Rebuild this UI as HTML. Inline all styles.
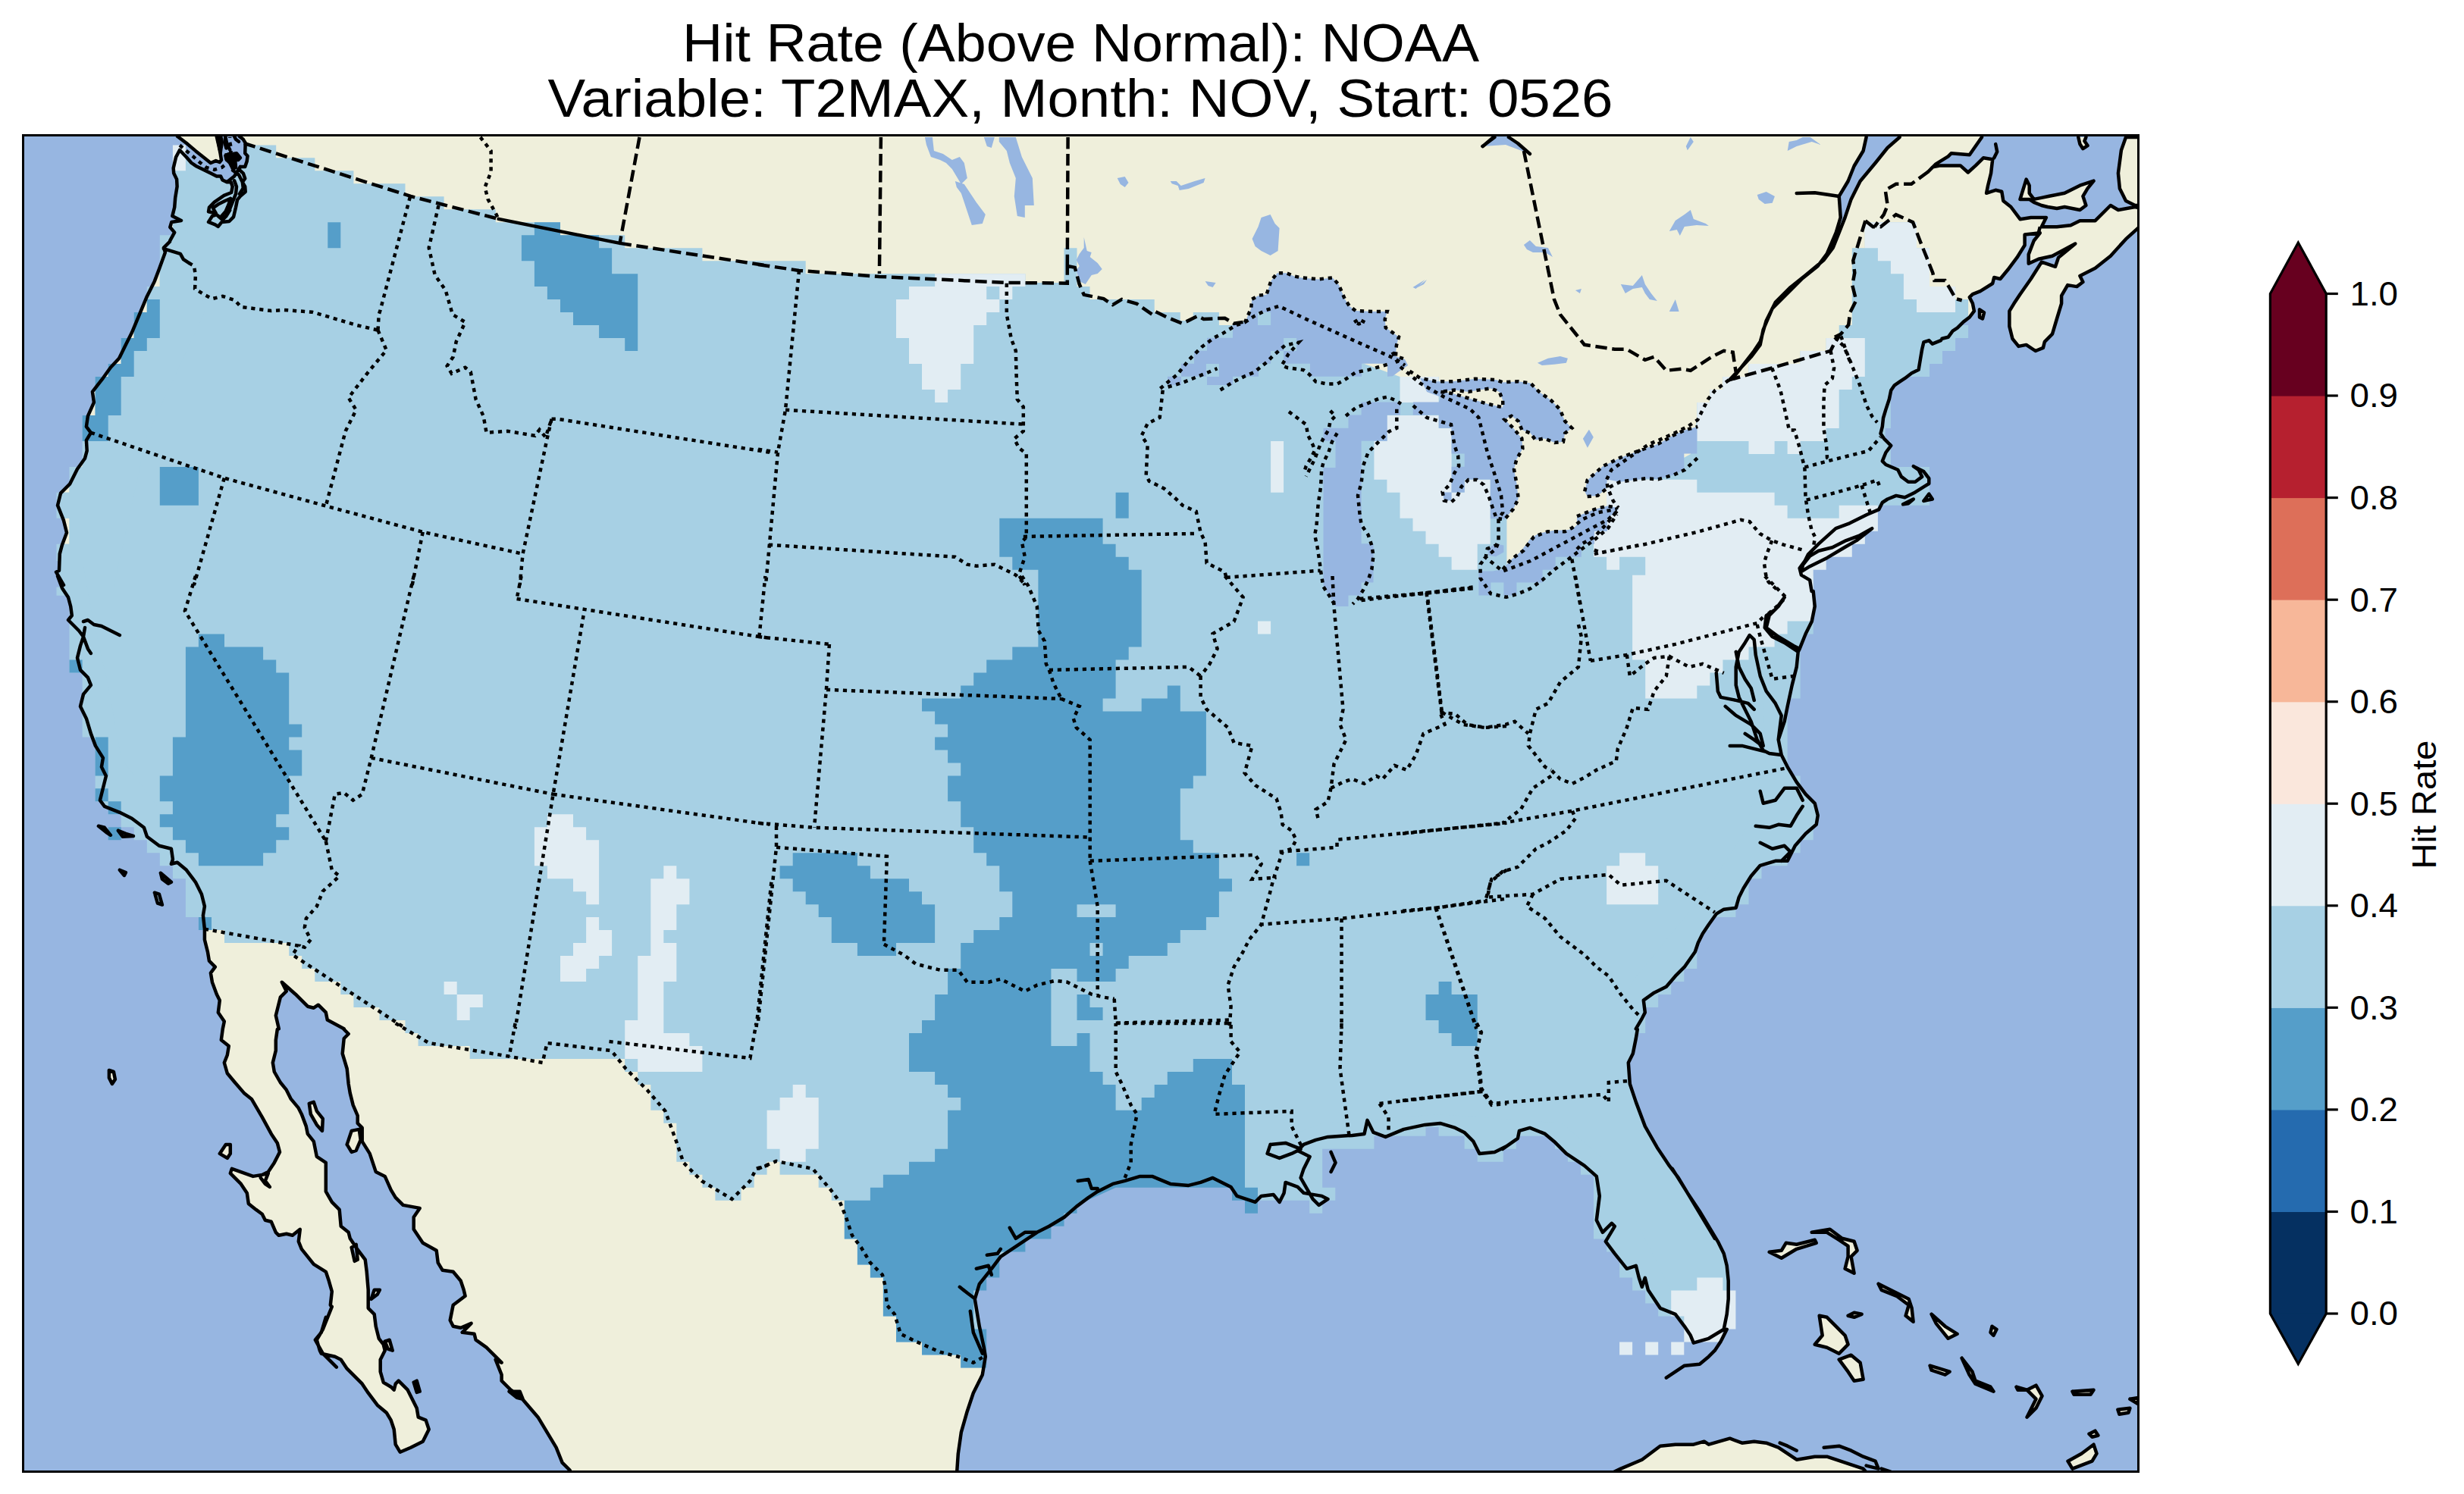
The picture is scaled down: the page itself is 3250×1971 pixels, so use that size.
<!DOCTYPE html>
<html><head><meta charset="utf-8"><title>Hit Rate (Above Normal): NOAA</title>
<style>
html,body{margin:0;padding:0;background:#fff;}
body{width:3250px;height:1971px;overflow:hidden;}
svg{display:block;}
.tt{font-family:"Liberation Sans",sans-serif;font-size:70px;fill:#000;}
.tk{font-family:"Liberation Sans",sans-serif;font-size:43.5px;fill:#000;}
.lb{font-family:"Liberation Sans",sans-serif;font-size:43.5px;fill:#000;}
</style></head><body>
<svg xmlns="http://www.w3.org/2000/svg" width="3250" height="1971" viewBox="0 0 3250 1971">
<defs>
<clipPath id="frame"><rect x="31.5" y="179.5" width="2788" height="1761"/></clipPath>
<clipPath id="landclip"><path d="M315.9,179.9 L320.8,183.8 L323.7,188.7 L323.2,202.3 L326.6,205.8 L325.6,213.1 L323.2,219.9 L316.9,219.9 L309.1,232.5 L299.3,240.3 L293.5,237.4 L291.1,232.5 L285.7,232.5 L277.9,228.6 L258.4,218.9 L252.6,215.0 L245.8,207.2 L237.0,198.0 L232.1,207.2 L228.7,221.8 L229.2,228.6 L233.1,236.4 L233.6,246.2 L231.2,260.8 L230.2,273.5 L227.3,285.1 L239.0,291.0 L226.3,292.9 L224.3,299.7 L230.2,306.6 L224.3,317.3 L223.9,318.9 L215.9,326.9 L217.9,332.9 L209.9,354.9 L203.9,370.9 L193.9,390.9 L183.9,414.9 L173.9,438.8 L165.9,454.8 L157.1,472.8 L145.9,484.8 L135.9,498.8 L121.9,516.8 L123.9,530.8 L115.9,548.8 L113.9,562.8 L119.9,570.8 L113.9,580.8 L114.7,594.7 L112.0,604.7 L102.0,618.7 L92.0,638.7 L80.0,650.7 L76.0,666.7 L84.0,686.7 L88.0,702.7 L82.0,718.7 L78.8,730.7 L78.0,752.7 L74.0,754.7 L84.0,771.8 L76.0,760.0 L82.0,776.0 L90.0,788.0 L93.2,800.0 L94.8,812.0 L90.0,818.0 L104.0,832.0 L110.0,840.0 L106.0,851.9 L102.0,867.9 L106.0,883.9 L115.9,893.9 L119.9,903.9 L110.0,915.9 L106.0,931.9 L113.9,947.9 L119.9,967.9 L125.9,983.9 L135.9,999.9 L133.9,1011.8 L139.9,1023.8 L135.9,1039.8 L131.9,1055.8 L137.9,1063.8 L157.9,1071.8 L173.9,1079.8 L189.9,1091.8 L193.9,1103.8 L209.9,1115.8 L225.9,1119.8 L227.9,1133.8 L225.9,1139.8 L233.9,1137.8 L245.9,1147.8 L257.9,1163.8 L265.9,1179.7 L269.9,1195.7 L267.9,1207.7 L269.9,1225.7 L269.9,1239.7 L273.9,1255.7 L275.9,1267.7 L283.8,1275.7 L277.9,1283.7 L279.9,1295.7 L285.8,1311.7 L289.8,1319.7 L287.8,1335.7 L295.8,1347.6 L293.8,1357.2 L293.8,1357.2 L291.8,1372.0 L301.8,1380.0 L299.8,1392.0 L295.8,1402.0 L299.8,1416.0 L309.8,1428.0 L321.8,1441.9 L331.8,1449.9 L345.8,1473.9 L357.8,1495.9 L365.8,1507.9 L369.0,1519.9 L361.8,1533.9 L353.8,1545.9 L345.8,1549.9 L333.8,1551.9 L305.8,1541.9 L303.8,1547.9 L317.8,1561.9 L325.8,1573.9 L327.8,1587.9 L337.8,1595.9 L345.8,1601.8 L349.8,1609.8 L357.8,1611.8 L363.8,1625.8 L367.8,1629.8 L377.8,1627.8 L385.8,1629.8 L395.8,1621.8 L393.8,1637.8 L397.8,1647.8 L413.8,1667.8 L429.8,1677.8 L433.8,1689.8 L437.8,1703.8 L435.8,1721.8 L437.8,1723.8 L429.8,1743.8 L425.8,1753.8 L417.8,1767.7 L421.8,1781.7 L423.8,1785.7 L441.8,1789.7 L449.7,1793.7 L457.7,1805.7 L477.7,1825.7 L485.7,1837.7 L497.7,1853.7 L509.7,1863.7 L515.7,1873.7 L519.7,1885.7 L521.7,1905.7 L527.7,1915.7 L541.7,1909.7 L557.7,1901.7 L565.7,1885.7 L561.7,1873.7 L551.7,1869.7 L549.7,1857.7 L545.7,1849.7 L537.7,1833.7 L525.7,1821.7 L521.7,1825.7 L519.7,1833.7 L515.7,1829.7 L505.7,1823.7 L501.7,1809.7 L501.7,1793.7 L507.7,1781.7 L505.7,1773.7 L499.7,1765.8 L495.7,1749.8 L493.7,1733.8 L485.7,1725.8 L485.7,1701.8 L483.7,1677.8 L481.7,1661.8 L469.7,1645.8 L461.7,1633.8 L459.7,1625.8 L449.7,1617.8 L447.7,1595.9 L437.8,1585.9 L429.8,1571.9 L429.8,1559.9 L429.8,1545.9 L429.8,1533.9 L417.8,1525.9 L413.8,1505.9 L405.8,1495.9 L403.8,1485.9 L397.8,1469.9 L393.8,1461.9 L383.8,1449.9 L377.8,1437.9 L369.8,1428.0 L361.8,1414.0 L359.8,1402.0 L363.8,1386.0 L363.8,1372.0 L365.8,1358.0 L367.8,1357.2 L363.8,1339.7 L369.8,1315.7 L377.8,1307.7 L371.8,1295.7 L389.8,1311.7 L405.8,1327.7 L413.8,1329.7 L419.8,1325.7 L429.8,1335.7 L431.8,1345.6 L453.7,1357.2 L453.7,1358.0 L459.7,1364.0 L453.7,1370.0 L451.7,1390.0 L457.7,1410.0 L459.7,1430.0 L461.7,1441.9 L465.7,1457.9 L471.7,1471.9 L471.7,1481.9 L477.7,1487.9 L477.7,1505.9 L487.7,1521.9 L495.7,1545.9 L507.7,1551.9 L515.7,1569.9 L521.7,1579.9 L531.7,1589.9 L553.7,1593.9 L545.7,1605.8 L545.7,1621.8 L557.7,1639.8 L575.7,1649.8 L577.7,1665.8 L583.7,1675.8 L597.7,1677.8 L607.7,1689.8 L611.7,1701.8 L613.6,1709.8 L597.7,1721.8 L593.7,1741.8 L597.7,1749.8 L607.7,1751.8 L621.6,1745.8 L609.7,1757.8 L625.6,1759.8 L627.6,1767.7 L641.6,1777.7 L653.6,1789.7 L661.6,1797.7 L653.6,1793.7 L661.6,1813.7 L661.6,1821.7 L673.6,1833.7 L685.6,1841.7 L709.6,1869.7 L721.6,1889.7 L733.6,1909.7 L741.6,1929.7 L751.6,1939.6 L761.6,1961.6 L1261.8,1957.6 L1261.8,1947.2 L1263.8,1917.7 L1267.8,1889.7 L1275.8,1861.7 L1283.8,1837.7 L1295.8,1813.7 L1299.8,1789.7 L1297.8,1777.7 L1291.8,1749.8 L1287.8,1725.8 L1285.8,1713.8 L1291.8,1693.8 L1307.8,1673.8 L1319.8,1657.8 L1343.8,1641.8 L1367.8,1625.8 L1383.8,1617.8 L1403.8,1605.8 L1419.7,1591.9 L1435.7,1579.9 L1447.7,1571.9 L1467.7,1561.9 L1483.7,1557.9 L1503.7,1551.9 L1519.7,1551.9 L1543.7,1561.9 L1567.7,1563.9 L1583.6,1559.9 L1599.6,1553.9 L1607.6,1557.9 L1623.6,1565.9 L1631.6,1577.9 L1655.6,1585.9 L1663.6,1577.9 L1679.6,1575.9 L1687.6,1585.9 L1693.6,1573.9 L1695.6,1559.9 L1711.6,1565.9 L1719.6,1573.9 L1743.6,1577.9 L1751.5,1581.9 L1739.6,1589.9 L1731.6,1581.9 L1715.6,1553.9 L1719.6,1541.9 L1727.6,1525.9 L1711.6,1517.9 L1719.6,1509.9 L1735.6,1503.9 L1751.5,1499.9 L1783.5,1497.9 L1799.5,1495.9 L1803.5,1477.9 L1811.5,1493.9 L1827.5,1499.9 L1851.5,1489.9 L1879.5,1483.9 L1899.5,1481.9 L1919.4,1487.9 L1931.4,1493.9 L1943.4,1505.9 L1951.4,1521.9 L1971.4,1519.9 L1987.4,1511.9 L1981.9,1515.9 L2001.9,1501.9 L2003.9,1491.9 L2017.9,1487.9 L2037.9,1495.9 L2049.9,1505.9 L2065.9,1521.9 L2089.9,1537.9 L2105.8,1551.9 L2109.8,1577.9 L2105.8,1609.8 L2113.8,1625.8 L2125.8,1613.8 L2129.8,1617.8 L2117.8,1637.8 L2129.8,1653.8 L2145.8,1673.8 L2157.8,1669.8 L2161.8,1685.8 L2165.8,1697.8 L2169.8,1685.8 L2173.8,1701.8 L2181.8,1713.8 L2189.8,1725.8 L2209.8,1733.8 L2221.8,1749.8 L2229.8,1761.8 L2233.8,1771.7 L2253.8,1765.8 L2273.7,1753.8 L2277.7,1733.8 L2279.7,1713.8 L2279.7,1689.8 L2277.7,1669.8 L2273.7,1653.8 L2265.8,1637.8 L2253.8,1617.8 L2241.8,1597.9 L2225.8,1573.9 L2213.8,1553.9 L2201.8,1537.9 L2185.8,1513.9 L2169.8,1485.9 L2157.8,1453.9 L2149.8,1430.0 L2147.8,1402.0 L2153.8,1390.0 L2157.8,1370.0 L2159.8,1358.0 L2157.8,1357.2 L2165.8,1343.6 L2169.8,1335.7 L2167.8,1319.7 L2181.8,1309.7 L2197.8,1301.7 L2209.8,1287.7 L2221.8,1275.7 L2235.8,1255.7 L2239.8,1243.7 L2245.8,1231.7 L2253.8,1219.7 L2263.8,1205.7 L2273.7,1199.7 L2289.7,1197.7 L2293.7,1183.7 L2299.7,1171.8 L2309.7,1155.8 L2321.7,1141.8 L2341.7,1135.8 L2357.7,1135.8 L2367.7,1115.8 L2381.7,1099.8 L2395.7,1087.8 L2397.7,1075.8 L2393.7,1059.8 L2381.7,1047.8 L2369.7,1031.8 L2357.7,1011.8 L2349.7,995.9 L2345.7,975.9 L2353.7,951.9 L2357.7,931.9 L2363.7,903.9 L2369.7,879.9 L2371.7,859.9 L2373.7,855.9 L2381.7,836.0 L2389.7,820.0 L2393.7,800.0 L2391.7,780.0 L2389.5,780.0 L2387.2,765.4 L2375.9,758.6 L2373.6,749.5 L2380.4,740.4 L2385.0,731.3 L2398.6,717.7 L2421.4,697.2 L2439.6,690.3 L2462.3,679.0 L2478.3,672.1 L2482.8,663.0 L2489.6,658.5 L2501.0,653.9 L2512.4,656.2 L2526.1,649.4 L2544.3,638.0 L2544.3,631.2 L2537.4,622.1 L2523.8,615.2 L2530.6,619.8 L2535.2,628.9 L2526.1,635.7 L2517.0,635.7 L2507.9,628.9 L2503.3,619.8 L2487.4,613.0 L2482.8,608.4 L2487.4,597.0 L2494.2,587.9 L2485.1,578.8 L2480.5,572.0 L2482.8,562.9 L2484.0,551.5 L2487.4,540.1 L2491.9,526.5 L2494.2,515.1 L2498.8,508.3 L2505.6,503.7 L2512.4,499.2 L2521.5,492.3 L2530.6,487.8 L2532.9,474.1 L2535.2,460.5 L2537.4,451.4 L2544.3,449.1 L2548.8,453.7 L2560.0,449.1 L2561.5,446.8 L2569.6,444.8 L2575.6,436.7 L2581.7,432.6 L2589.8,424.6 L2597.8,418.5 L2603.9,410.4 L2601.9,400.3 L2597.8,392.2 L2601.9,388.2 L2612.0,384.1 L2628.2,374.0 L2630.2,366.0 L2638.3,368.0 L2648.4,355.8 L2660.5,339.7 L2670.6,323.5 L2670.6,309.4 L2690.8,307.3 L2682.7,317.5 L2675.7,335.6 L2675.7,347.8 L2688.8,341.7 L2707.0,337.7 L2737.3,321.5 L2715.1,339.7 L2711.0,351.8 L2692.8,345.7 L2678.7,368.0 L2664.5,388.2 L2656.5,400.3 L2650.4,410.4 L2650.4,430.6 L2654.4,446.8 L2662.5,456.9 L2672.6,454.9 L2684.8,463.0 L2694.9,458.9 L2696.9,450.8 L2707.0,440.7 L2713.0,420.5 L2719.1,400.3 L2719.1,390.2 L2727.2,376.1 L2739.3,378.1 L2747.4,372.0 L2743.4,363.9 L2763.6,353.8 L2783.8,337.7 L2804.0,315.4 L2824.2,297.2 L2824.2,275.0 L2816.1,273.0 L2793.9,277.0 L2783.8,271.0 L2763.6,291.2 L2743.4,291.2 L2731.2,297.2 L2713.0,299.3 L2698.9,299.3 L2692.8,299.3 L2698.9,287.1 L2678.7,287.1 L2664.5,289.2 L2652.4,273.0 L2642.3,264.9 L2640.3,252.8 L2632.2,250.8 L2620.1,254.8 L2622.1,244.7 L2626.1,228.5 L2628.2,210.3 L2616.0,208.3 L2605.9,218.4 L2595.8,227.5 L2585.7,218.4 L2559.5,218.4 L2549.3,220.4 L2543.3,226.5 L2553.4,216.4 L2569.6,206.3 L2573.6,202.3 L2597.8,204.3 L2614.0,181.0 L2614.0,150.0 L2505.6,150.0 L2505.6,181.0 L2489.6,195.0 L2473.6,215.0 L2453.6,239.0 L2441.6,262.9 L2433.6,286.9 L2425.7,306.9 L2417.7,326.9 L2405.7,342.9 L2381.7,362.9 L2361.7,378.9 L2341.7,398.9 L2329.7,422.9 L2321.7,450.8 L2313.7,462.8 L2285.7,498.8 L2281.7,500.8 L2309.7,470.8 L2321.7,454.8 L2325.7,434.8 L2337.7,406.9 L2365.7,378.9 L2377.7,366.9 L2397.7,350.9 L2409.7,334.9 L2421.7,306.9 L2427.7,286.9 L2425.7,258.9 L2437.6,239.0 L2445.6,219.0 L2457.6,199.0 L2461.6,181.0 L2461.6,150.0 L315.9,150.0Z M234.1,179.9 L245.8,188.7 L258.4,199.4 L268.2,207.2 L277.9,215.0 L284.7,212.1 L289.6,214.0 L292.0,211.1 L290.6,202.3 L288.6,192.6 L285.7,179.9 L285.7,177.5 L234.1,177.5Z M2664.5,262.9 L2672.6,236.6 L2676.7,244.7 L2676.7,254.8 L2682.7,262.9 L2692.8,260.9 L2702.9,258.8 L2723.2,254.8 L2743.4,244.7 L2761.6,238.6 L2753.5,248.7 L2747.4,258.8 L2751.4,271.0 L2743.4,277.0 L2733.3,275.0 L2723.2,273.0 L2713.0,275.0 L2700.9,273.0 L2692.8,271.0 L2682.7,266.9 L2676.7,262.9 L2664.5,262.9Z M2824.2,181.0 L2804.0,181.0 L2797.9,198.2 L2793.9,228.5 L2795.9,248.7 L2804.0,264.9 L2816.1,271.0 L2824.2,271.0Z M2741.3,181.0 L2743.4,190.1 L2747.4,196.2 L2753.5,192.1 L2749.4,186.1 L2751.4,181.0Z M2611.0,408.4 L2617.0,412.4 L2615.0,420.5 L2611.0,418.5 L2611.0,408.4Z M2375.9,754.1 L2387.2,747.2 L2410.0,735.9 L2432.8,722.2 L2448.7,713.1 L2469.2,697.2 L2453.2,706.3 L2435.0,713.1 L2416.8,722.2 L2398.6,726.8 L2387.2,733.6 L2378.1,745.0 L2375.9,754.1Z M2510.1,665.3 L2523.8,658.5 L2517.0,664.2 L2510.1,665.3Z M2537.4,660.8 L2548.8,658.5 L2544.3,651.7 L2537.4,660.8Z M129.9,1089.8 L137.9,1091.8 L145.9,1101.8 L139.9,1097.8 L129.9,1089.8Z M155.9,1095.8 L165.9,1099.8 L175.9,1103.0 L161.9,1103.8 L155.9,1095.8Z M157.9,1147.8 L165.9,1151.0 L163.9,1155.0 L157.9,1147.8Z M211.9,1151.8 L225.9,1163.8 L221.9,1165.8 L213.9,1159.8 L211.9,1151.8Z M203.9,1177.7 L209.9,1179.7 L213.9,1193.7 L207.9,1191.7 L203.9,1177.7Z M143.9,1412.0 L149.9,1414.0 L151.9,1424.0 L147.9,1430.0 L143.9,1422.0 L143.9,1412.0Z M289.8,1521.9 L297.8,1509.9 L303.8,1509.9 L303.8,1521.9 L299.8,1527.9 L289.8,1521.9Z M407.8,1455.9 L413.8,1453.9 L417.8,1465.9 L425.8,1475.9 L425.0,1491.9 L417.8,1483.9 L409.8,1469.9 L407.8,1455.9Z M457.7,1509.9 L463.7,1491.9 L473.7,1489.9 L475.7,1503.9 L469.7,1517.9 L463.7,1519.9 L457.7,1509.9Z M463.7,1645.8 L469.7,1641.8 L471.7,1661.8 L467.7,1663.8 L463.7,1645.8Z M489.7,1713.8 L493.7,1701.8 L500.9,1701.8 L497.7,1707.8 L489.7,1713.8Z M507.7,1769.7 L513.7,1767.7 L517.7,1781.7 L511.7,1779.7 L507.7,1769.7Z M545.7,1823.7 L549.7,1821.7 L553.7,1835.7 L549.7,1836.9 L545.7,1823.7Z M671.6,1835.7 L685.6,1835.7 L689.6,1845.7 L681.6,1843.7 L671.6,1835.7Z M2333.7,1651.8 L2349.7,1659.8 L2369.7,1647.8 L2395.7,1639.8 L2393.7,1635.8 L2369.7,1641.8 L2355.7,1639.8 L2349.7,1649.8 L2333.7,1651.8Z M2389.7,1625.8 L2413.7,1621.8 L2429.7,1633.8 L2445.6,1637.8 L2449.6,1649.8 L2441.6,1657.8 L2445.6,1679.8 L2433.6,1673.8 L2437.6,1657.8 L2437.6,1643.8 L2425.7,1635.8 L2409.7,1625.8 L2389.7,1625.8Z M2399.7,1735.8 L2409.7,1737.8 L2421.7,1749.8 L2433.6,1761.8 L2437.6,1773.7 L2425.7,1785.7 L2409.7,1777.7 L2393.7,1773.7 L2403.7,1761.8 L2399.7,1735.8Z M2425.7,1793.7 L2441.6,1787.7 L2453.6,1797.7 L2457.6,1819.7 L2445.6,1821.7 L2437.6,1809.7 L2425.7,1793.7Z M2477.6,1693.8 L2493.6,1701.8 L2517.6,1713.8 L2521.6,1725.8 L2523.6,1743.8 L2513.6,1735.8 L2517.6,1721.8 L2501.6,1709.8 L2481.6,1701.8 L2477.6,1693.8Z M2437.6,1735.8 L2445.6,1731.8 L2455.6,1733.8 L2445.6,1737.8 L2437.6,1735.8Z M2547.6,1733.8 L2565.6,1749.8 L2581.6,1759.8 L2569.6,1765.8 L2553.6,1745.8 L2547.6,1733.8Z M2627.5,1749.8 L2633.5,1753.8 L2629.5,1761.8 L2625.5,1757.8 L2627.5,1749.8Z M2587.6,1791.7 L2601.5,1809.7 L2605.5,1821.7 L2625.5,1829.7 L2629.5,1835.7 L2605.5,1825.7 L2597.6,1813.7 L2587.6,1791.7Z M2545.6,1801.7 L2571.6,1809.7 L2565.6,1813.7 L2547.6,1807.7 L2545.6,1801.7Z M2659.5,1829.7 L2673.5,1833.7 L2685.5,1827.7 L2693.5,1841.7 L2685.5,1857.7 L2673.5,1869.7 L2685.5,1845.7 L2673.5,1833.7 L2661.5,1833.7 L2659.5,1829.7Z M2733.5,1835.7 L2761.5,1833.7 L2757.5,1839.7 L2735.5,1839.7 L2733.5,1835.7Z M2793.4,1859.7 L2809.4,1857.7 L2807.4,1863.7 L2795.4,1865.7 L2793.4,1859.7Z M2809.4,1845.7 L2821.4,1843.7 L2819.4,1851.7 L2809.4,1845.7Z M2727.5,1927.7 L2745.5,1917.7 L2761.5,1905.7 L2765.5,1917.7 L2759.5,1927.7 L2733.5,1937.6 L2727.5,1927.7Z M2755.5,1891.7 L2763.5,1887.7 L2767.4,1893.7 L2759.5,1895.7 L2755.5,1891.7Z M2117.8,1957.6 L2117.8,1947.2 L2137.8,1937.6 L2165.8,1925.7 L2189.8,1907.7 L2209.8,1905.7 L2233.8,1905.7 L2247.8,1901.7 L2253.8,1905.7 L2281.7,1897.7 L2297.7,1903.7 L2313.7,1901.7 L2329.7,1903.7 L2345.7,1909.7 L2369.7,1925.7 L2393.7,1921.7 L2409.7,1921.7 L2433.6,1929.7 L2457.6,1937.6 L2465.6,1947.2 L2473.6,1957.6 L2117.8,1957.6Z" clip-rule="nonzero"/></clipPath>
</defs>
<rect width="3250" height="1971" fill="#fff"/>
<g clip-path="url(#frame)">
<rect x="0" y="0" width="3250" height="1971" fill="#97b6e1"/>
<path d="M315.9,179.9 L320.8,183.8 L323.7,188.7 L323.2,202.3 L326.6,205.8 L325.6,213.1 L323.2,219.9 L316.9,219.9 L309.1,232.5 L299.3,240.3 L293.5,237.4 L291.1,232.5 L285.7,232.5 L277.9,228.6 L258.4,218.9 L252.6,215.0 L245.8,207.2 L237.0,198.0 L232.1,207.2 L228.7,221.8 L229.2,228.6 L233.1,236.4 L233.6,246.2 L231.2,260.8 L230.2,273.5 L227.3,285.1 L239.0,291.0 L226.3,292.9 L224.3,299.7 L230.2,306.6 L224.3,317.3 L223.9,318.9 L215.9,326.9 L217.9,332.9 L209.9,354.9 L203.9,370.9 L193.9,390.9 L183.9,414.9 L173.9,438.8 L165.9,454.8 L157.1,472.8 L145.9,484.8 L135.9,498.8 L121.9,516.8 L123.9,530.8 L115.9,548.8 L113.9,562.8 L119.9,570.8 L113.9,580.8 L114.7,594.7 L112.0,604.7 L102.0,618.7 L92.0,638.7 L80.0,650.7 L76.0,666.7 L84.0,686.7 L88.0,702.7 L82.0,718.7 L78.8,730.7 L78.0,752.7 L74.0,754.7 L84.0,771.8 L76.0,760.0 L82.0,776.0 L90.0,788.0 L93.2,800.0 L94.8,812.0 L90.0,818.0 L104.0,832.0 L110.0,840.0 L106.0,851.9 L102.0,867.9 L106.0,883.9 L115.9,893.9 L119.9,903.9 L110.0,915.9 L106.0,931.9 L113.9,947.9 L119.9,967.9 L125.9,983.9 L135.9,999.9 L133.9,1011.8 L139.9,1023.8 L135.9,1039.8 L131.9,1055.8 L137.9,1063.8 L157.9,1071.8 L173.9,1079.8 L189.9,1091.8 L193.9,1103.8 L209.9,1115.8 L225.9,1119.8 L227.9,1133.8 L225.9,1139.8 L233.9,1137.8 L245.9,1147.8 L257.9,1163.8 L265.9,1179.7 L269.9,1195.7 L267.9,1207.7 L269.9,1225.7 L269.9,1239.7 L273.9,1255.7 L275.9,1267.7 L283.8,1275.7 L277.9,1283.7 L279.9,1295.7 L285.8,1311.7 L289.8,1319.7 L287.8,1335.7 L295.8,1347.6 L293.8,1357.2 L293.8,1357.2 L291.8,1372.0 L301.8,1380.0 L299.8,1392.0 L295.8,1402.0 L299.8,1416.0 L309.8,1428.0 L321.8,1441.9 L331.8,1449.9 L345.8,1473.9 L357.8,1495.9 L365.8,1507.9 L369.0,1519.9 L361.8,1533.9 L353.8,1545.9 L345.8,1549.9 L333.8,1551.9 L305.8,1541.9 L303.8,1547.9 L317.8,1561.9 L325.8,1573.9 L327.8,1587.9 L337.8,1595.9 L345.8,1601.8 L349.8,1609.8 L357.8,1611.8 L363.8,1625.8 L367.8,1629.8 L377.8,1627.8 L385.8,1629.8 L395.8,1621.8 L393.8,1637.8 L397.8,1647.8 L413.8,1667.8 L429.8,1677.8 L433.8,1689.8 L437.8,1703.8 L435.8,1721.8 L437.8,1723.8 L429.8,1743.8 L425.8,1753.8 L417.8,1767.7 L421.8,1781.7 L423.8,1785.7 L441.8,1789.7 L449.7,1793.7 L457.7,1805.7 L477.7,1825.7 L485.7,1837.7 L497.7,1853.7 L509.7,1863.7 L515.7,1873.7 L519.7,1885.7 L521.7,1905.7 L527.7,1915.7 L541.7,1909.7 L557.7,1901.7 L565.7,1885.7 L561.7,1873.7 L551.7,1869.7 L549.7,1857.7 L545.7,1849.7 L537.7,1833.7 L525.7,1821.7 L521.7,1825.7 L519.7,1833.7 L515.7,1829.7 L505.7,1823.7 L501.7,1809.7 L501.7,1793.7 L507.7,1781.7 L505.7,1773.7 L499.7,1765.8 L495.7,1749.8 L493.7,1733.8 L485.7,1725.8 L485.7,1701.8 L483.7,1677.8 L481.7,1661.8 L469.7,1645.8 L461.7,1633.8 L459.7,1625.8 L449.7,1617.8 L447.7,1595.9 L437.8,1585.9 L429.8,1571.9 L429.8,1559.9 L429.8,1545.9 L429.8,1533.9 L417.8,1525.9 L413.8,1505.9 L405.8,1495.9 L403.8,1485.9 L397.8,1469.9 L393.8,1461.9 L383.8,1449.9 L377.8,1437.9 L369.8,1428.0 L361.8,1414.0 L359.8,1402.0 L363.8,1386.0 L363.8,1372.0 L365.8,1358.0 L367.8,1357.2 L363.8,1339.7 L369.8,1315.7 L377.8,1307.7 L371.8,1295.7 L389.8,1311.7 L405.8,1327.7 L413.8,1329.7 L419.8,1325.7 L429.8,1335.7 L431.8,1345.6 L453.7,1357.2 L453.7,1358.0 L459.7,1364.0 L453.7,1370.0 L451.7,1390.0 L457.7,1410.0 L459.7,1430.0 L461.7,1441.9 L465.7,1457.9 L471.7,1471.9 L471.7,1481.9 L477.7,1487.9 L477.7,1505.9 L487.7,1521.9 L495.7,1545.9 L507.7,1551.9 L515.7,1569.9 L521.7,1579.9 L531.7,1589.9 L553.7,1593.9 L545.7,1605.8 L545.7,1621.8 L557.7,1639.8 L575.7,1649.8 L577.7,1665.8 L583.7,1675.8 L597.7,1677.8 L607.7,1689.8 L611.7,1701.8 L613.6,1709.8 L597.7,1721.8 L593.7,1741.8 L597.7,1749.8 L607.7,1751.8 L621.6,1745.8 L609.7,1757.8 L625.6,1759.8 L627.6,1767.7 L641.6,1777.7 L653.6,1789.7 L661.6,1797.7 L653.6,1793.7 L661.6,1813.7 L661.6,1821.7 L673.6,1833.7 L685.6,1841.7 L709.6,1869.7 L721.6,1889.7 L733.6,1909.7 L741.6,1929.7 L751.6,1939.6 L761.6,1961.6 L1261.8,1957.6 L1261.8,1947.2 L1263.8,1917.7 L1267.8,1889.7 L1275.8,1861.7 L1283.8,1837.7 L1295.8,1813.7 L1299.8,1789.7 L1297.8,1777.7 L1291.8,1749.8 L1287.8,1725.8 L1285.8,1713.8 L1291.8,1693.8 L1307.8,1673.8 L1319.8,1657.8 L1343.8,1641.8 L1367.8,1625.8 L1383.8,1617.8 L1403.8,1605.8 L1419.7,1591.9 L1435.7,1579.9 L1447.7,1571.9 L1467.7,1561.9 L1483.7,1557.9 L1503.7,1551.9 L1519.7,1551.9 L1543.7,1561.9 L1567.7,1563.9 L1583.6,1559.9 L1599.6,1553.9 L1607.6,1557.9 L1623.6,1565.9 L1631.6,1577.9 L1655.6,1585.9 L1663.6,1577.9 L1679.6,1575.9 L1687.6,1585.9 L1693.6,1573.9 L1695.6,1559.9 L1711.6,1565.9 L1719.6,1573.9 L1743.6,1577.9 L1751.5,1581.9 L1739.6,1589.9 L1731.6,1581.9 L1715.6,1553.9 L1719.6,1541.9 L1727.6,1525.9 L1711.6,1517.9 L1719.6,1509.9 L1735.6,1503.9 L1751.5,1499.9 L1783.5,1497.9 L1799.5,1495.9 L1803.5,1477.9 L1811.5,1493.9 L1827.5,1499.9 L1851.5,1489.9 L1879.5,1483.9 L1899.5,1481.9 L1919.4,1487.9 L1931.4,1493.9 L1943.4,1505.9 L1951.4,1521.9 L1971.4,1519.9 L1987.4,1511.9 L1981.9,1515.9 L2001.9,1501.9 L2003.9,1491.9 L2017.9,1487.9 L2037.9,1495.9 L2049.9,1505.9 L2065.9,1521.9 L2089.9,1537.9 L2105.8,1551.9 L2109.8,1577.9 L2105.8,1609.8 L2113.8,1625.8 L2125.8,1613.8 L2129.8,1617.8 L2117.8,1637.8 L2129.8,1653.8 L2145.8,1673.8 L2157.8,1669.8 L2161.8,1685.8 L2165.8,1697.8 L2169.8,1685.8 L2173.8,1701.8 L2181.8,1713.8 L2189.8,1725.8 L2209.8,1733.8 L2221.8,1749.8 L2229.8,1761.8 L2233.8,1771.7 L2253.8,1765.8 L2273.7,1753.8 L2277.7,1733.8 L2279.7,1713.8 L2279.7,1689.8 L2277.7,1669.8 L2273.7,1653.8 L2265.8,1637.8 L2253.8,1617.8 L2241.8,1597.9 L2225.8,1573.9 L2213.8,1553.9 L2201.8,1537.9 L2185.8,1513.9 L2169.8,1485.9 L2157.8,1453.9 L2149.8,1430.0 L2147.8,1402.0 L2153.8,1390.0 L2157.8,1370.0 L2159.8,1358.0 L2157.8,1357.2 L2165.8,1343.6 L2169.8,1335.7 L2167.8,1319.7 L2181.8,1309.7 L2197.8,1301.7 L2209.8,1287.7 L2221.8,1275.7 L2235.8,1255.7 L2239.8,1243.7 L2245.8,1231.7 L2253.8,1219.7 L2263.8,1205.7 L2273.7,1199.7 L2289.7,1197.7 L2293.7,1183.7 L2299.7,1171.8 L2309.7,1155.8 L2321.7,1141.8 L2341.7,1135.8 L2357.7,1135.8 L2367.7,1115.8 L2381.7,1099.8 L2395.7,1087.8 L2397.7,1075.8 L2393.7,1059.8 L2381.7,1047.8 L2369.7,1031.8 L2357.7,1011.8 L2349.7,995.9 L2345.7,975.9 L2353.7,951.9 L2357.7,931.9 L2363.7,903.9 L2369.7,879.9 L2371.7,859.9 L2373.7,855.9 L2381.7,836.0 L2389.7,820.0 L2393.7,800.0 L2391.7,780.0 L2389.5,780.0 L2387.2,765.4 L2375.9,758.6 L2373.6,749.5 L2380.4,740.4 L2385.0,731.3 L2398.6,717.7 L2421.4,697.2 L2439.6,690.3 L2462.3,679.0 L2478.3,672.1 L2482.8,663.0 L2489.6,658.5 L2501.0,653.9 L2512.4,656.2 L2526.1,649.4 L2544.3,638.0 L2544.3,631.2 L2537.4,622.1 L2523.8,615.2 L2530.6,619.8 L2535.2,628.9 L2526.1,635.7 L2517.0,635.7 L2507.9,628.9 L2503.3,619.8 L2487.4,613.0 L2482.8,608.4 L2487.4,597.0 L2494.2,587.9 L2485.1,578.8 L2480.5,572.0 L2482.8,562.9 L2484.0,551.5 L2487.4,540.1 L2491.9,526.5 L2494.2,515.1 L2498.8,508.3 L2505.6,503.7 L2512.4,499.2 L2521.5,492.3 L2530.6,487.8 L2532.9,474.1 L2535.2,460.5 L2537.4,451.4 L2544.3,449.1 L2548.8,453.7 L2560.0,449.1 L2561.5,446.8 L2569.6,444.8 L2575.6,436.7 L2581.7,432.6 L2589.8,424.6 L2597.8,418.5 L2603.9,410.4 L2601.9,400.3 L2597.8,392.2 L2601.9,388.2 L2612.0,384.1 L2628.2,374.0 L2630.2,366.0 L2638.3,368.0 L2648.4,355.8 L2660.5,339.7 L2670.6,323.5 L2670.6,309.4 L2690.8,307.3 L2682.7,317.5 L2675.7,335.6 L2675.7,347.8 L2688.8,341.7 L2707.0,337.7 L2737.3,321.5 L2715.1,339.7 L2711.0,351.8 L2692.8,345.7 L2678.7,368.0 L2664.5,388.2 L2656.5,400.3 L2650.4,410.4 L2650.4,430.6 L2654.4,446.8 L2662.5,456.9 L2672.6,454.9 L2684.8,463.0 L2694.9,458.9 L2696.9,450.8 L2707.0,440.7 L2713.0,420.5 L2719.1,400.3 L2719.1,390.2 L2727.2,376.1 L2739.3,378.1 L2747.4,372.0 L2743.4,363.9 L2763.6,353.8 L2783.8,337.7 L2804.0,315.4 L2824.2,297.2 L2824.2,275.0 L2816.1,273.0 L2793.9,277.0 L2783.8,271.0 L2763.6,291.2 L2743.4,291.2 L2731.2,297.2 L2713.0,299.3 L2698.9,299.3 L2692.8,299.3 L2698.9,287.1 L2678.7,287.1 L2664.5,289.2 L2652.4,273.0 L2642.3,264.9 L2640.3,252.8 L2632.2,250.8 L2620.1,254.8 L2622.1,244.7 L2626.1,228.5 L2628.2,210.3 L2616.0,208.3 L2605.9,218.4 L2595.8,227.5 L2585.7,218.4 L2559.5,218.4 L2549.3,220.4 L2543.3,226.5 L2553.4,216.4 L2569.6,206.3 L2573.6,202.3 L2597.8,204.3 L2614.0,181.0 L2614.0,150.0 L2505.6,150.0 L2505.6,181.0 L2489.6,195.0 L2473.6,215.0 L2453.6,239.0 L2441.6,262.9 L2433.6,286.9 L2425.7,306.9 L2417.7,326.9 L2405.7,342.9 L2381.7,362.9 L2361.7,378.9 L2341.7,398.9 L2329.7,422.9 L2321.7,450.8 L2313.7,462.8 L2285.7,498.8 L2281.7,500.8 L2309.7,470.8 L2321.7,454.8 L2325.7,434.8 L2337.7,406.9 L2365.7,378.9 L2377.7,366.9 L2397.7,350.9 L2409.7,334.9 L2421.7,306.9 L2427.7,286.9 L2425.7,258.9 L2437.6,239.0 L2445.6,219.0 L2457.6,199.0 L2461.6,181.0 L2461.6,150.0 L315.9,150.0Z M234.1,179.9 L245.8,188.7 L258.4,199.4 L268.2,207.2 L277.9,215.0 L284.7,212.1 L289.6,214.0 L292.0,211.1 L290.6,202.3 L288.6,192.6 L285.7,179.9 L285.7,177.5 L234.1,177.5Z M2664.5,262.9 L2672.6,236.6 L2676.7,244.7 L2676.7,254.8 L2682.7,262.9 L2692.8,260.9 L2702.9,258.8 L2723.2,254.8 L2743.4,244.7 L2761.6,238.6 L2753.5,248.7 L2747.4,258.8 L2751.4,271.0 L2743.4,277.0 L2733.3,275.0 L2723.2,273.0 L2713.0,275.0 L2700.9,273.0 L2692.8,271.0 L2682.7,266.9 L2676.7,262.9 L2664.5,262.9Z M2824.2,181.0 L2804.0,181.0 L2797.9,198.2 L2793.9,228.5 L2795.9,248.7 L2804.0,264.9 L2816.1,271.0 L2824.2,271.0Z M2741.3,181.0 L2743.4,190.1 L2747.4,196.2 L2753.5,192.1 L2749.4,186.1 L2751.4,181.0Z M2611.0,408.4 L2617.0,412.4 L2615.0,420.5 L2611.0,418.5 L2611.0,408.4Z M2375.9,754.1 L2387.2,747.2 L2410.0,735.9 L2432.8,722.2 L2448.7,713.1 L2469.2,697.2 L2453.2,706.3 L2435.0,713.1 L2416.8,722.2 L2398.6,726.8 L2387.2,733.6 L2378.1,745.0 L2375.9,754.1Z M2510.1,665.3 L2523.8,658.5 L2517.0,664.2 L2510.1,665.3Z M2537.4,660.8 L2548.8,658.5 L2544.3,651.7 L2537.4,660.8Z M129.9,1089.8 L137.9,1091.8 L145.9,1101.8 L139.9,1097.8 L129.9,1089.8Z M155.9,1095.8 L165.9,1099.8 L175.9,1103.0 L161.9,1103.8 L155.9,1095.8Z M157.9,1147.8 L165.9,1151.0 L163.9,1155.0 L157.9,1147.8Z M211.9,1151.8 L225.9,1163.8 L221.9,1165.8 L213.9,1159.8 L211.9,1151.8Z M203.9,1177.7 L209.9,1179.7 L213.9,1193.7 L207.9,1191.7 L203.9,1177.7Z M143.9,1412.0 L149.9,1414.0 L151.9,1424.0 L147.9,1430.0 L143.9,1422.0 L143.9,1412.0Z M289.8,1521.9 L297.8,1509.9 L303.8,1509.9 L303.8,1521.9 L299.8,1527.9 L289.8,1521.9Z M407.8,1455.9 L413.8,1453.9 L417.8,1465.9 L425.8,1475.9 L425.0,1491.9 L417.8,1483.9 L409.8,1469.9 L407.8,1455.9Z M457.7,1509.9 L463.7,1491.9 L473.7,1489.9 L475.7,1503.9 L469.7,1517.9 L463.7,1519.9 L457.7,1509.9Z M463.7,1645.8 L469.7,1641.8 L471.7,1661.8 L467.7,1663.8 L463.7,1645.8Z M489.7,1713.8 L493.7,1701.8 L500.9,1701.8 L497.7,1707.8 L489.7,1713.8Z M507.7,1769.7 L513.7,1767.7 L517.7,1781.7 L511.7,1779.7 L507.7,1769.7Z M545.7,1823.7 L549.7,1821.7 L553.7,1835.7 L549.7,1836.9 L545.7,1823.7Z M671.6,1835.7 L685.6,1835.7 L689.6,1845.7 L681.6,1843.7 L671.6,1835.7Z M2333.7,1651.8 L2349.7,1659.8 L2369.7,1647.8 L2395.7,1639.8 L2393.7,1635.8 L2369.7,1641.8 L2355.7,1639.8 L2349.7,1649.8 L2333.7,1651.8Z M2389.7,1625.8 L2413.7,1621.8 L2429.7,1633.8 L2445.6,1637.8 L2449.6,1649.8 L2441.6,1657.8 L2445.6,1679.8 L2433.6,1673.8 L2437.6,1657.8 L2437.6,1643.8 L2425.7,1635.8 L2409.7,1625.8 L2389.7,1625.8Z M2399.7,1735.8 L2409.7,1737.8 L2421.7,1749.8 L2433.6,1761.8 L2437.6,1773.7 L2425.7,1785.7 L2409.7,1777.7 L2393.7,1773.7 L2403.7,1761.8 L2399.7,1735.8Z M2425.7,1793.7 L2441.6,1787.7 L2453.6,1797.7 L2457.6,1819.7 L2445.6,1821.7 L2437.6,1809.7 L2425.7,1793.7Z M2477.6,1693.8 L2493.6,1701.8 L2517.6,1713.8 L2521.6,1725.8 L2523.6,1743.8 L2513.6,1735.8 L2517.6,1721.8 L2501.6,1709.8 L2481.6,1701.8 L2477.6,1693.8Z M2437.6,1735.8 L2445.6,1731.8 L2455.6,1733.8 L2445.6,1737.8 L2437.6,1735.8Z M2547.6,1733.8 L2565.6,1749.8 L2581.6,1759.8 L2569.6,1765.8 L2553.6,1745.8 L2547.6,1733.8Z M2627.5,1749.8 L2633.5,1753.8 L2629.5,1761.8 L2625.5,1757.8 L2627.5,1749.8Z M2587.6,1791.7 L2601.5,1809.7 L2605.5,1821.7 L2625.5,1829.7 L2629.5,1835.7 L2605.5,1825.7 L2597.6,1813.7 L2587.6,1791.7Z M2545.6,1801.7 L2571.6,1809.7 L2565.6,1813.7 L2547.6,1807.7 L2545.6,1801.7Z M2659.5,1829.7 L2673.5,1833.7 L2685.5,1827.7 L2693.5,1841.7 L2685.5,1857.7 L2673.5,1869.7 L2685.5,1845.7 L2673.5,1833.7 L2661.5,1833.7 L2659.5,1829.7Z M2733.5,1835.7 L2761.5,1833.7 L2757.5,1839.7 L2735.5,1839.7 L2733.5,1835.7Z M2793.4,1859.7 L2809.4,1857.7 L2807.4,1863.7 L2795.4,1865.7 L2793.4,1859.7Z M2809.4,1845.7 L2821.4,1843.7 L2819.4,1851.7 L2809.4,1845.7Z M2727.5,1927.7 L2745.5,1917.7 L2761.5,1905.7 L2765.5,1917.7 L2759.5,1927.7 L2733.5,1937.6 L2727.5,1927.7Z M2755.5,1891.7 L2763.5,1887.7 L2767.4,1893.7 L2759.5,1895.7 L2755.5,1891.7Z M2117.8,1957.6 L2117.8,1947.2 L2137.8,1937.6 L2165.8,1925.7 L2189.8,1907.7 L2209.8,1905.7 L2233.8,1905.7 L2247.8,1901.7 L2253.8,1905.7 L2281.7,1897.7 L2297.7,1903.7 L2313.7,1901.7 L2329.7,1903.7 L2345.7,1909.7 L2369.7,1925.7 L2393.7,1921.7 L2409.7,1921.7 L2433.6,1929.7 L2457.6,1937.6 L2465.6,1947.2 L2473.6,1957.6 L2117.8,1957.6Z" fill="#efefdb" fill-rule="nonzero"/>
<path d="M1955.9,193.0 L1969.9,181.0 L1969.9,171.0 L1989.9,171.0 L1989.9,181.0 L2001.9,189.0 L2017.9,203.0 L1985.9,191.0Z" fill="#97b6e1"/>
<g clip-path="url(#landclip)"><path d="M227.9,203.0 L244.9,198.0 L258.0,208.3 L268.0,215.0 L279.0,222.0 L290.0,225.3 L296.0,215.0 L300.0,200.0 L310.0,191.4 L321.8,191.4 L364.2,191.4 L364.2,208.3 L415.3,208.3 L415.3,225.3 L466.4,225.3 L466.4,242.3 L534.5,242.3 L534.5,259.3 L585.6,259.3 L585.6,276.3 L653.8,276.3 L653.8,293.2 L739.0,293.2 L739.0,310.2 L824.2,310.2 L824.2,327.2 L926.4,327.2 L926.4,344.2 L1017.4,344.2 L1017.4,774.6 L74.5,774.6 L74.5,717.7 L91.5,717.7 L91.5,683.8 L74.5,683.8 L74.5,649.8 L91.5,649.8 L91.5,615.9 L108.6,615.9 L108.6,547.9 L125.6,547.9 L125.6,497.0 L142.7,497.0 L142.7,480.0 L159.7,480.0 L159.7,446.1 L176.7,446.1 L176.7,412.1 L193.8,412.1 L193.8,378.1 L210.8,378.1 L210.8,310.2 L227.9,310.2Z M998.0,344.2 L1062.7,344.2 L1062.7,361.2 L1352.4,361.2 L1352.4,372.9 L1403.5,372.9 L1403.5,327.2 L1420.5,327.2 L1420.5,378.1 L1437.5,378.1 L1437.5,395.1 L1522.7,395.1 L1522.7,412.1 L1556.8,412.1 L1556.8,422.9 L1573.8,422.9 L1573.8,412.1 L1607.9,412.1 L1607.9,429.1 L1625.0,429.1 L1655.6,418.9 L1719.6,450.8 L1799.5,480.0 L1846.5,497.0 L1897.6,497.0 L1897.6,518.8 L1987.4,518.8 L1987.4,774.6 L998.0,774.6Z M1850.0,518.8 L1897.6,518.8 L1904.8,523.7 L1939.0,539.7 L1948.7,551.0 L1961.8,598.9 L1973.1,632.8 L1982.8,653.5 L1982.8,676.2 L1976.5,683.8 L1976.5,717.7 L1973.1,724.0 L1959.5,734.7 L1982.8,751.7 L2016.8,740.0 L2050.9,721.8 L2085.0,700.8 L2119.1,683.8 L2136.1,672.8 L2119.1,645.0 L2150.0,632.8 L2180.0,620.0 L2210.0,610.0 L2230.0,598.9 L2238.3,553.8 L2238.3,531.0 L2255.4,531.0 L2255.4,514.0 L2272.4,514.0 L2272.4,497.0 L2306.5,497.0 L2306.5,480.0 L2374.6,480.0 L2374.6,463.0 L2408.7,463.0 L2408.7,446.1 L2425.7,446.1 L2425.7,429.1 L2442.8,429.1 L2442.8,327.2 L2459.8,327.2 L2459.8,293.2 L2528.0,293.2 L2528.0,327.2 L2545.0,327.2 L2545.0,378.1 L2579.1,378.1 L2579.1,395.1 L2596.1,395.1 L2596.1,446.1 L2620.0,446.1 L2620.0,480.0 L2720.0,480.0 L2720.0,802.6 L1850.0,802.6Z M28.0,758.0 L1017.4,758.0 L1017.4,1359.6 L534.5,1359.6 L534.5,1346.0 L500.5,1346.0 L500.5,1329.0 L466.4,1329.0 L466.4,1312.0 L449.3,1312.0 L449.3,1295.0 L415.3,1295.0 L415.3,1278.1 L398.2,1278.1 L398.2,1261.1 L381.2,1261.1 L381.2,1244.1 L296.0,1244.1 L296.0,1227.1 L269.9,1227.1 L227.9,1227.1 L28.0,1227.1Z M998.0,758.0 L1987.4,758.0 L1987.4,1359.6 L998.0,1359.6Z M1846.5,758.0 L2449.6,758.0 L2449.6,1359.6 L1846.5,1359.6Z M509.7,1346.0 L1017.4,1346.0 L1017.4,1532.8 L1011.6,1532.8 L1011.6,1549.7 L994.6,1549.7 L994.6,1566.7 L977.5,1566.7 L977.5,1583.7 L943.4,1583.7 L943.4,1566.7 L926.4,1566.7 L926.4,1549.7 L909.4,1549.7 L909.4,1532.8 L892.3,1532.8 L892.3,1481.8 L875.3,1481.8 L875.3,1464.8 L858.3,1464.8 L858.3,1430.9 L841.2,1430.9 L841.2,1413.9 L824.2,1413.9 L824.2,1396.9 L721.9,1396.9 L619.7,1396.9 L619.7,1379.9 L551.6,1379.9 L551.6,1363.0 L534.5,1363.0 L534.5,1346.0Z M998.0,1346.0 L1987.4,1346.0 L1987.4,1629.8 L1642.0,1629.8 L1301.2,1809.7 L1301.2,1804.4 L1267.2,1804.4 L1267.2,1787.5 L1216.0,1787.5 L1216.0,1770.5 L1182.0,1770.5 L1182.0,1736.5 L1164.9,1736.5 L1164.9,1685.6 L1147.9,1685.6 L1147.9,1668.6 L1130.9,1668.6 L1130.9,1634.6 L1113.8,1634.6 L1113.8,1583.7 L1096.8,1583.7 L1096.8,1566.7 L1079.7,1566.7 L1079.7,1549.7 L1028.6,1549.7 L1028.6,1532.8 L998.0,1532.8Z M1846.5,1346.0 L2309.7,1346.0 L2309.7,1787.5 L1846.5,1787.5Z" fill="#a7d0e4" fill-rule="nonzero"/></g>
<path d="M74.5,774.6 L74.5,717.7 L91.5,717.7 L91.5,683.8 L74.5,683.8 L74.5,649.8 L91.5,649.8 L91.5,615.9 L108.6,615.9 L108.6,547.9 L125.6,547.9 L125.6,497.0 L142.7,497.0 L142.7,480.0 L159.7,480.0 L159.7,446.1 L176.7,446.1 L176.7,412.1 L193.8,412.1 L193.8,378.1 L210.8,378.1 L210.8,310.2 L227.9,310.2 L227.9,293.2 L253.9,310.2 L269.9,412.1 L193.8,574.8 L149.9,774.6Z M74.5,740.0 L74.5,785.7 L91.5,785.7 L91.5,887.5 L108.6,887.5 L108.6,972.4 L125.6,972.4 L125.6,1057.3 L142.7,1057.3 L142.7,1074.3 L159.7,1074.3 L159.7,1091.3 L176.7,1091.3 L176.7,1108.3 L193.8,1108.3 L193.8,1125.2 L210.8,1125.2 L210.8,1142.2 L227.9,1142.2 L227.9,1159.2 L244.9,1159.2 L244.9,1210.1 L261.9,1210.1 L261.9,1227.1 L296.0,1227.1 L296.0,1150.0 L220.0,1080.0 L159.7,1000.0 L142.7,904.5 L120.0,802.6 L108.6,740.0Z M1642.0,1566.7 L1659.0,1566.7 L1659.0,1583.7 L1727.2,1583.7 L1727.2,1600.7 L1744.2,1600.7 L1744.2,1583.7 L1761.3,1583.7 L1761.3,1566.7 L1744.2,1566.7 L1744.2,1515.8 L1812.4,1515.8 L1812.4,1498.8 L1880.5,1498.8 L1880.5,1486.9 L1897.6,1486.9 L1897.6,1498.8 L1931.6,1498.8 L1931.6,1515.8 L1948.7,1515.8 L1948.7,1532.8 L1982.8,1532.8 L1982.8,1515.8 L1999.8,1515.8 L1999.8,1498.8 L2050.9,1498.8 L2050.9,1515.8 L2067.9,1515.8 L2067.9,1532.8 L2085.0,1532.8 L2085.0,1549.7 L2102.0,1549.7 L2102.0,1634.6 L2119.1,1634.6 L2119.1,1651.6 L2136.1,1651.6 L2136.1,1685.6 L2153.1,1685.6 L2153.1,1702.6 L2170.2,1702.6 L2170.2,1719.5 L2187.2,1719.5 L2187.2,1736.5 L2204.2,1736.5 L2204.2,1702.6 L2153.1,1600.7 L2119.1,1532.8 L2060.0,1481.8 L1897.6,1470.0 L1744.2,1481.8 L1700.0,1498.8 L1642.0,1498.8Z M2391.7,760.0 L2391.7,836.6 L2374.6,836.6 L2374.6,921.5 L2357.6,921.5 L2357.6,1023.4 L2374.6,1023.4 L2374.6,1091.3 L2391.7,1091.3 L2391.7,1108.3 L2374.6,1108.3 L2374.6,1125.2 L2357.6,1125.2 L2357.6,1142.2 L2323.5,1142.2 L2323.5,1159.2 L2306.5,1159.2 L2306.5,1193.2 L2289.4,1193.2 L2289.4,1210.1 L2255.4,1210.1 L2255.4,1227.1 L2238.3,1227.1 L2238.3,1278.1 L2221.3,1278.1 L2221.3,1295.0 L2204.2,1295.0 L2204.2,1312.0 L2187.2,1312.0 L2187.2,1329.0 L2170.2,1329.0 L2170.2,1363.0 L2153.1,1363.0 L2153.1,1396.9 L2119.1,1396.9 L2153.1,1295.0 L2250.0,1176.2 L2300.0,1100.0 L2330.0,1000.0 L2323.5,904.5 L2350.0,802.6 L2380.0,760.0Z M2596.1,429.1 L2596.1,446.1 L2579.1,446.1 L2579.1,463.0 L2562.0,463.0 L2562.0,480.0 L2545.0,480.0 L2545.0,497.0 L2493.9,497.0 L2493.9,564.9 L2486.6,564.9 L2486.6,581.9 L2493.9,581.9 L2493.9,615.9 L2545.0,615.9 L2545.0,666.8 L2476.9,666.8 L2476.9,700.8 L2459.8,700.8 L2459.8,717.7 L2442.8,717.7 L2442.8,429.1Z" fill="#a7d0e4"/>
<path d="M1429.7,312.9 L1433.7,330.9 L1439.7,332.9 L1437.7,338.9 L1447.7,346.9 L1453.7,354.9 L1447.7,360.9 L1439.7,362.9 L1431.7,374.9 L1423.7,370.9 L1419.7,356.9 L1423.7,350.9 L1419.7,342.9 L1423.7,334.9 L1429.7,326.9Z M1317.8,181.0 L1339.8,181.0 L1347.8,207.0 L1361.8,235.0 L1363.8,270.9 L1351.8,270.9 L1351.8,286.9 L1341.8,284.9 L1337.8,258.9 L1339.8,235.0 L1331.8,215.0 L1327.8,199.0 L1317.8,187.0Z M1259.8,239.0 L1271.8,243.0 L1287.8,266.9 L1299.8,282.9 L1295.8,294.9 L1281.8,296.9 L1275.8,278.9 L1267.8,255.0 L1261.8,247.0Z M1219.9,181.0 L1229.9,181.0 L1231.9,199.0 L1243.9,203.0 L1255.8,211.0 L1265.8,207.0 L1271.8,215.0 L1275.8,235.0 L1267.8,243.0 L1255.8,223.0 L1247.9,215.0 L1239.9,211.0 L1227.9,207.0 L1221.9,191.0Z M1297.8,181.0 L1311.8,181.0 L1307.8,195.0 L1301.8,193.0Z M1473.7,235.0 L1483.7,233.0 L1488.5,241.0 L1483.7,247.0 L1477.7,243.0Z M1543.7,239.0 L1551.7,239.0 L1557.7,245.0 L1575.7,239.0 L1589.6,235.0 L1587.6,241.0 L1567.7,249.0 L1555.7,251.0 L1553.7,245.0 L1545.7,242.2Z M1663.6,286.9 L1675.6,282.9 L1681.6,294.9 L1687.6,300.9 L1685.6,330.9 L1675.6,336.9 L1663.6,330.9 L1655.6,324.9 L1651.6,314.9 L1659.6,298.9Z M1589.6,370.9 L1603.6,372.9 L1599.6,378.9 L1593.6,376.9Z M1879.5,368.9 L1867.5,380.9 L1863.5,378.9Z M2317.7,257.0 L2329.7,253.0 L2340.9,258.9 L2337.7,267.7 L2327.7,268.9 L2319.7,262.9Z M2201.8,304.9 L2209.8,290.9 L2221.8,282.9 L2229.8,276.9 L2233.8,288.9 L2249.8,294.9 L2253.8,298.1 L2237.8,296.9 L2221.8,298.9 L2215.8,310.9 L2211.8,302.9Z M2009.9,322.9 L2017.9,316.9 L2025.9,324.9 L2041.9,326.9 L2047.9,338.9 L2037.9,332.9 L2021.9,332.9 L2013.9,328.9Z M2137.8,374.9 L2153.8,376.9 L2165.8,362.9 L2169.8,374.9 L2177.8,386.9 L2185.8,396.9 L2175.8,394.9 L2169.8,386.9 L2165.8,378.9 L2153.8,380.9 L2143.8,386.9Z M2201.8,410.9 L2209.8,394.9 L2214.6,410.9Z M2077.9,382.9 L2085.9,380.9 L2083.9,386.9Z M1866.0,380.9 L1882.0,368.9 L1878.0,374.9Z M2229.8,181.0 L2233.8,187.0 L2225.8,198.2 L2223.8,193.0Z M2357.7,199.0 L2359.7,187.0 L2369.7,185.0 L2377.7,181.0 L2387.7,181.0 L2401.7,191.0 L2389.7,187.0 L2369.7,193.0Z M2027.9,478.8 L2041.9,472.8 L2057.9,470.0 L2067.9,472.8 L2065.9,478.8 L2049.9,480.8 L2033.9,482.0Z M2087.9,578.8 L2095.9,566.8 L2101.8,576.8 L2093.9,590.8Z" fill="#97b6e1"/>
<path d="M193.8,395.1 L210.8,395.1 L210.8,446.1 L193.8,446.1 L193.8,463.0 L176.7,463.0 L176.7,497.0 L159.7,497.0 L159.7,547.9 L142.7,547.9 L142.7,581.9 L108.6,581.9 L108.6,547.9 L125.6,547.9 L125.6,497.0 L142.7,497.0 L142.7,480.0 L159.7,480.0 L159.7,446.1 L176.7,446.1 L176.7,412.1 L193.8,412.1Z M432.3,293.2 L449.3,293.2 L449.3,327.2 L432.3,327.2Z M704.9,293.2 L739.0,293.2 L739.0,310.2 L790.1,310.2 L790.1,327.2 L807.1,327.2 L807.1,361.2 L841.2,361.2 L841.2,463.0 L824.2,463.0 L824.2,446.1 L790.1,446.1 L790.1,429.1 L756.0,429.1 L756.0,412.1 L739.0,412.1 L739.0,395.1 L721.9,395.1 L721.9,378.1 L704.9,378.1 L704.9,344.2 L687.9,344.2 L687.9,310.2 L704.9,310.2Z M210.8,615.9 L261.9,615.9 L261.9,666.8 L210.8,666.8Z M1471.6,649.8 L1488.7,649.8 L1488.7,683.8 L1471.6,683.8Z M1318.3,683.8 L1454.6,683.8 L1454.6,717.7 L1471.6,717.7 L1471.6,734.7 L1488.7,734.7 L1488.7,751.7 L1505.7,751.7 L1505.7,774.6 L1369.4,774.6 L1369.4,751.7 L1335.3,751.7 L1335.3,734.7 L1318.3,734.7Z M261.9,836.6 L296.0,836.6 L296.0,853.6 L347.1,853.6 L347.1,870.6 L364.2,870.6 L364.2,887.5 L381.2,887.5 L381.2,955.5 L398.2,955.5 L398.2,972.4 L381.2,972.4 L381.2,989.4 L398.2,989.4 L398.2,1023.4 L381.2,1023.4 L381.2,1057.3 L381.2,1057.3 L381.2,1074.3 L364.2,1074.3 L364.2,1091.3 L381.2,1091.3 L381.2,1108.3 L364.2,1108.3 L364.2,1125.2 L347.1,1125.2 L347.1,1142.2 L261.9,1142.2 L261.9,1125.2 L244.9,1125.2 L244.9,1108.3 L227.9,1108.3 L227.9,1091.3 L210.8,1091.3 L210.8,1074.3 L227.9,1074.3 L227.9,1057.3 L210.8,1057.3 L210.8,1023.4 L227.9,1023.4 L227.9,972.4 L244.9,972.4 L244.9,853.6 L261.9,853.6Z M91.5,870.6 L108.6,870.6 L108.6,887.5 L91.5,887.5Z M125.6,972.4 L142.7,972.4 L142.7,1023.4 L125.6,1023.4Z M125.6,1040.3 L142.7,1040.3 L142.7,1057.3 L125.6,1057.3Z M142.7,1057.3 L159.7,1057.3 L159.7,1074.3 L142.7,1074.3Z M142.7,1091.3 L159.7,1091.3 L159.7,1108.3 L142.7,1108.3Z M261.9,1210.1 L279.0,1210.1 L279.0,1227.1 L261.9,1227.1Z M1369.4,758.8 L1505.7,758.8 L1505.7,853.6 L1488.7,853.6 L1488.7,870.6 L1471.6,870.6 L1471.6,921.5 L1454.6,921.5 L1454.6,938.5 L1505.7,938.5 L1505.7,921.5 L1539.8,921.5 L1539.8,904.5 L1556.8,904.5 L1556.8,938.5 L1590.9,938.5 L1590.9,1023.4 L1573.8,1023.4 L1573.8,1040.3 L1556.8,1040.3 L1556.8,1108.3 L1573.8,1108.3 L1573.8,1125.2 L1607.9,1125.2 L1607.9,1159.2 L1625.0,1159.2 L1625.0,1176.2 L1607.9,1176.2 L1607.9,1210.1 L1590.9,1210.1 L1590.9,1227.1 L1556.8,1227.1 L1556.8,1244.1 L1539.8,1244.1 L1539.8,1261.1 L1488.7,1261.1 L1488.7,1278.1 L1471.6,1278.1 L1471.6,1295.0 L1420.5,1295.0 L1420.5,1278.1 L1386.4,1278.1 L1386.4,1363.0 L1216.0,1363.0 L1216.0,1346.0 L1233.1,1346.0 L1233.1,1312.0 L1250.1,1312.0 L1250.1,1278.1 L1267.2,1278.1 L1267.2,1244.1 L1284.2,1244.1 L1284.2,1227.1 L1318.3,1227.1 L1318.3,1210.1 L1335.3,1210.1 L1335.3,1176.2 L1318.3,1176.2 L1318.3,1142.2 L1301.2,1142.2 L1301.2,1125.2 L1284.2,1125.2 L1284.2,1091.3 L1267.2,1091.3 L1267.2,1057.3 L1250.1,1057.3 L1250.1,1023.4 L1267.2,1023.4 L1267.2,1006.4 L1250.1,1006.4 L1250.1,989.4 L1233.1,989.4 L1233.1,972.4 L1250.1,972.4 L1250.1,955.5 L1233.1,955.5 L1233.1,938.5 L1216.0,938.5 L1216.0,921.5 L1267.2,921.5 L1267.2,904.5 L1284.2,904.5 L1284.2,887.5 L1301.2,887.5 L1301.2,870.6 L1335.3,870.6 L1335.3,853.6 L1369.4,853.6Z M1420.5,1312.0 L1437.5,1312.0 L1437.5,1329.0 L1454.6,1329.0 L1454.6,1346.0 L1420.5,1346.0Z M1710.1,1125.2 L1727.2,1125.2 L1727.2,1142.2 L1710.1,1142.2Z M1045.7,1125.2 L1130.9,1125.2 L1130.9,1142.2 L1147.9,1142.2 L1147.9,1159.2 L1199.0,1159.2 L1199.0,1176.2 L1216.0,1176.2 L1216.0,1193.2 L1233.1,1193.2 L1233.1,1244.1 L1182.0,1244.1 L1182.0,1261.1 L1130.9,1261.1 L1130.9,1244.1 L1096.8,1244.1 L1096.8,1210.1 L1079.7,1210.1 L1079.7,1193.2 L1062.7,1193.2 L1062.7,1176.2 L1045.7,1176.2 L1045.7,1159.2 L1028.6,1159.2 L1028.6,1142.2 L1045.7,1142.2Z M1897.6,1295.0 L1914.6,1295.0 L1914.6,1312.0 L1948.7,1312.0 L1948.7,1363.0 L1897.6,1363.0 L1897.6,1346.0 L1880.5,1346.0 L1880.5,1312.0 L1897.6,1312.0Z M1880.5,1312.0 L1897.6,1312.0 L1897.6,1295.0 L1914.6,1295.0 L1914.6,1312.0 L1948.7,1312.0 L1948.7,1363.0 L1897.6,1363.0 L1897.6,1346.0 L1880.5,1346.0Z M1216.0,1346.0 L1386.4,1346.0 L1386.4,1379.9 L1420.5,1379.9 L1420.5,1363.0 L1437.5,1363.0 L1437.5,1413.9 L1454.6,1413.9 L1454.6,1430.9 L1471.6,1430.9 L1471.6,1464.8 L1505.7,1464.8 L1505.7,1447.9 L1522.7,1447.9 L1522.7,1430.9 L1539.8,1430.9 L1539.8,1413.9 L1573.8,1413.9 L1573.8,1396.9 L1625.0,1396.9 L1625.0,1430.9 L1642.0,1430.9 L1642.0,1566.7 L1659.0,1566.7 L1659.0,1600.7 L1642.0,1600.7 L1642.0,1583.7 L1625.0,1583.7 L1625.0,1566.7 L1488.7,1566.7 L1471.6,1566.7 L1420.5,1589.9 L1420.5,1600.7 L1403.5,1600.7 L1403.5,1617.7 L1386.4,1617.7 L1386.4,1634.6 L1352.4,1634.6 L1352.4,1651.6 L1318.3,1651.6 L1318.3,1685.6 L1301.2,1685.6 L1301.2,1702.6 L1284.2,1702.6 L1284.2,1753.5 L1301.2,1753.5 L1301.2,1804.4 L1267.2,1804.4 L1267.2,1787.5 L1216.0,1787.5 L1216.0,1770.5 L1182.0,1770.5 L1182.0,1736.5 L1164.9,1736.5 L1164.9,1685.6 L1147.9,1685.6 L1147.9,1668.6 L1130.9,1668.6 L1130.9,1634.6 L1113.8,1634.6 L1113.8,1583.7 L1147.9,1583.7 L1147.9,1566.7 L1164.9,1566.7 L1164.9,1549.7 L1199.0,1549.7 L1199.0,1532.8 L1233.1,1532.8 L1233.1,1515.8 L1250.1,1515.8 L1250.1,1464.8 L1267.2,1464.8 L1267.2,1447.9 L1250.1,1447.9 L1250.1,1430.9 L1233.1,1430.9 L1233.1,1413.9 L1199.0,1413.9 L1199.0,1363.0 L1216.0,1363.0Z M1897.6,1346.0 L1948.7,1346.0 L1948.7,1379.9 L1914.6,1379.9 L1914.6,1363.0 L1897.6,1363.0Z" fill="#559ec9" fill-rule="nonzero"/>
<path d="M227.9,191.4 L244.9,191.4 L244.9,225.3 L227.9,225.3Z M1233.1,361.2 L1352.4,361.2 L1352.4,378.1 L1335.3,378.1 L1335.3,395.1 L1318.3,395.1 L1318.3,412.1 L1301.2,412.1 L1301.2,429.1 L1284.2,429.1 L1284.2,480.0 L1267.2,480.0 L1267.2,514.0 L1250.1,514.0 L1250.1,531.0 L1233.1,531.0 L1233.1,514.0 L1216.0,514.0 L1216.0,480.0 L1199.0,480.0 L1199.0,446.1 L1182.0,446.1 L1182.0,395.1 L1199.0,395.1 L1199.0,378.1 L1233.1,378.1Z M1676.1,581.9 L1693.1,581.9 L1693.1,649.8 L1676.1,649.8Z M1846.5,497.0 L1897.6,497.0 L1897.6,531.0 L1846.5,531.0Z M1829.4,547.9 L1897.6,547.9 L1897.6,564.9 L1914.6,564.9 L1914.6,649.8 L1931.6,649.8 L1931.6,632.8 L1965.7,632.8 L1965.7,717.7 L1948.7,717.7 L1948.7,751.7 L1914.6,751.7 L1914.6,734.7 L1897.6,734.7 L1897.6,717.7 L1880.5,717.7 L1880.5,700.8 L1863.5,700.8 L1863.5,683.8 L1846.5,683.8 L1846.5,649.8 L1829.4,649.8 L1829.4,632.8 L1812.4,632.8 L1812.4,581.9 L1829.4,581.9Z M2238.3,531.0 L2255.4,531.0 L2255.4,514.0 L2272.4,514.0 L2272.4,497.0 L2306.5,497.0 L2306.5,480.0 L2374.6,480.0 L2374.6,463.0 L2408.7,463.0 L2408.7,446.1 L2459.8,446.1 L2459.8,497.0 L2442.8,497.0 L2442.8,514.0 L2425.7,514.0 L2425.7,564.9 L2408.7,564.9 L2408.7,581.9 L2374.6,581.9 L2374.6,598.9 L2357.6,598.9 L2357.6,581.9 L2340.6,581.9 L2340.6,598.9 L2306.5,598.9 L2306.5,581.9 L2238.3,581.9Z M2459.8,293.2 L2528.0,293.2 L2528.0,327.2 L2545.0,327.2 L2545.0,378.1 L2579.1,378.1 L2579.1,412.1 L2528.0,412.1 L2528.0,395.1 L2510.9,395.1 L2510.9,361.2 L2493.9,361.2 L2493.9,344.2 L2476.9,344.2 L2476.9,327.2 L2459.8,327.2Z M2420.0,446.1 L2459.8,446.1 L2459.8,480.0 L2420.0,480.0Z M2119.1,632.8 L2238.3,632.8 L2238.3,649.8 L2340.6,649.8 L2340.6,666.8 L2357.6,666.8 L2357.6,683.8 L2425.7,683.8 L2425.7,666.8 L2476.9,666.8 L2476.9,700.8 L2459.8,700.8 L2459.8,717.7 L2442.8,717.7 L2442.8,734.7 L2408.7,734.7 L2408.7,751.7 L2391.7,751.7 L2391.7,785.7 L2153.1,785.7 L2153.1,768.7 L2170.2,768.7 L2170.2,734.7 L2136.1,734.7 L2136.1,751.7 L2119.1,751.7 L2119.1,734.7 L2102.0,734.7 L2102.0,700.8 L2119.1,700.8Z M721.9,1074.3 L756.0,1074.3 L756.0,1091.3 L773.1,1091.3 L773.1,1108.3 L790.1,1108.3 L790.1,1193.2 L773.1,1193.2 L773.1,1176.2 L756.0,1176.2 L756.0,1159.2 L721.9,1159.2 L721.9,1142.2 L704.9,1142.2 L704.9,1091.3 L721.9,1091.3Z M773.1,1210.1 L790.1,1210.1 L790.1,1227.1 L807.1,1227.1 L807.1,1261.1 L790.1,1261.1 L790.1,1278.1 L773.1,1278.1 L773.1,1295.0 L739.0,1295.0 L739.0,1261.1 L756.0,1261.1 L756.0,1244.1 L773.1,1244.1Z M875.3,1142.2 L892.3,1142.2 L892.3,1159.2 L909.4,1159.2 L909.4,1193.2 L892.3,1193.2 L892.3,1227.1 L875.3,1227.1 L875.3,1244.1 L892.3,1244.1 L892.3,1295.0 L875.3,1295.0 L875.3,1363.0 L824.2,1363.0 L824.2,1346.0 L841.2,1346.0 L841.2,1261.1 L858.3,1261.1 L858.3,1159.2 L875.3,1159.2Z M585.6,1295.0 L602.7,1295.0 L602.7,1312.0 L636.8,1312.0 L636.8,1329.0 L619.7,1329.0 L619.7,1346.0 L602.7,1346.0 L602.7,1312.0 L585.6,1312.0Z M1659.0,819.6 L1676.1,819.6 L1676.1,836.6 L1659.0,836.6Z M2153.1,758.8 L2391.7,758.8 L2391.7,819.6 L2357.6,819.6 L2357.6,836.6 L2340.6,836.6 L2340.6,853.6 L2306.5,853.6 L2306.5,870.6 L2272.4,870.6 L2272.4,887.5 L2255.4,887.5 L2255.4,904.5 L2238.3,904.5 L2238.3,921.5 L2170.2,921.5 L2170.2,870.6 L2153.1,870.6Z M2136.1,1125.2 L2170.2,1125.2 L2170.2,1142.2 L2187.2,1142.2 L2187.2,1193.2 L2119.1,1193.2 L2119.1,1142.2 L2136.1,1142.2Z M824.2,1346.0 L875.3,1346.0 L875.3,1363.0 L909.4,1363.0 L909.4,1379.9 L926.4,1379.9 L926.4,1413.9 L841.2,1413.9 L841.2,1396.9 L824.2,1396.9Z M1011.6,1464.8 L1028.6,1464.8 L1028.6,1447.9 L1045.7,1447.9 L1045.7,1430.9 L1062.7,1430.9 L1062.7,1447.9 L1079.7,1447.9 L1079.7,1515.8 L1062.7,1515.8 L1062.7,1532.8 L1028.6,1532.8 L1028.6,1515.8 L1011.6,1515.8Z M2204.2,1702.6 L2238.3,1702.6 L2238.3,1685.6 L2272.4,1685.6 L2272.4,1702.6 L2289.4,1702.6 L2289.4,1753.5 L2272.4,1753.5 L2272.4,1770.5 L2221.3,1770.5 L2221.3,1736.5 L2204.2,1736.5Z M2136.1,1770.5 L2153.1,1770.5 L2153.1,1787.5 L2136.1,1787.5Z M2170.2,1770.5 L2187.2,1770.5 L2187.2,1787.5 L2170.2,1787.5Z M2204.2,1770.5 L2221.3,1770.5 L2221.3,1787.5 L2204.2,1787.5Z" fill="#e2edf3" fill-rule="nonzero"/>
<path d="M1540.0,508.0 L1540.0,496.7 L1558.0,496.7 L1558.0,479.7 L1575.0,479.7 L1575.0,462.8 L1592.0,462.8 L1592.0,445.8 L1626.0,445.8 L1626.0,428.8 L1632.0,427.0 L1642.0,425.2 L1650.2,407.0 L1651.2,394.8 L1660.3,389.7 L1670.5,388.7 L1676.5,370.4 L1684.7,360.3 L1696.8,360.3 L1707.0,364.4 L1717.1,366.4 L1738.4,368.4 L1757.7,366.4 L1765.8,375.5 L1774.0,394.8 L1780.0,403.9 L1788.1,410.0 L1810.5,411.0 L1829.7,411.0 L1826.7,421.2 L1827.7,432.3 L1845.0,444.5 L1841.9,455.7 L1840.9,469.9 L1853.0,473.9 L1857.1,482.0 L1845.0,490.2 L1836.9,496.2 L1830.0,496.7 L1830.0,479.7 L1796.0,479.7 L1796.0,496.7 L1728.0,496.7 L1728.0,479.7 L1660.0,479.7 L1660.0,496.7 L1626.0,496.7 L1626.0,508.0 L1592.0,508.0 L1592.0,496.7 L1558.0,496.7 L1558.0,508.0Z M1745.5,564.7 L1778.5,564.7 L1778.5,547.6 L1795.6,547.6 L1795.6,530.6 L1846.8,530.6 L1846.8,547.6 L1829.7,547.6 L1829.7,581.8 L1795.6,581.8 L1795.6,717.2 L1811.5,717.2 L1811.5,768.4 L1795.6,768.4 L1795.6,785.5 L1778.5,785.5 L1778.5,800.0 L1761.5,800.0 L1754.6,787.8 L1745.5,774.1 L1745.5,617.1 L1761.5,617.1 L1761.5,581.8 L1745.5,581.8Z M1863.9,530.6 L1897.8,530.6 L1900.3,523.7 L1882.1,516.9 L1873.0,498.7 L1893.5,503.2 L1916.2,503.2 L1945.8,499.8 L1973.1,501.0 L1982.2,504.4 L2002.7,503.2 L2018.7,505.5 L2030.0,516.9 L2046.0,528.3 L2057.3,539.7 L2064.2,555.6 L2073.3,564.7 L2064.2,571.5 L2061.9,582.9 L2050.5,584.0 L2036.9,578.4 L2025.5,580.6 L2018.7,571.5 L2007.3,567.0 L2002.7,555.6 L1993.6,548.8 L1984.5,553.3 L1995.9,564.7 L2007.3,578.4 L2008.4,592.0 L2000.4,605.7 L1997.0,619.3 L2000.4,637.5 L2002.7,658.0 L1995.9,671.7 L1984.5,685.3 L1976.5,684.2 L1965.8,684.2 L1965.8,632.5 L1931.7,632.5 L1931.7,649.6 L1914.6,649.6 L1914.6,660.3 L1904.8,660.3 L1902.6,649.6 L1914.6,649.6 L1914.6,615.7 L1931.7,615.7 L1931.7,598.6 L1914.6,598.6 L1914.6,564.7 L1897.8,564.7 L1897.8,547.6 L1863.7,547.6Z M1961.8,724.0 L1973.1,717.2 L1983.4,719.5 L1983.4,728.6 L1973.1,734.3 L1964.0,733.1Z M1950.4,753.6 L1968.6,753.6 L1982.2,751.3 L1991.3,740.0 L2005.0,728.6 L2018.7,710.4 L2030.0,703.5 L2048.2,700.1 L2068.7,699.0 L2075.6,696.7 L2086.9,685.3 L2105.1,678.5 L2121.1,671.7 L2134.7,671.7 L2119.9,684.2 L2119.9,700.8 L2102.9,700.8 L2102.9,717.7 L2085.8,717.7 L2085.8,734.7 L2051.7,734.7 L2051.7,751.8 L2034.6,751.8 L2034.6,768.6 L2000.4,768.6 L2000.4,785.5 L1983.4,785.5 L1983.4,768.6 L1966.3,768.6 L1966.3,785.5 L1950.4,785.5Z M2090.2,648.2 L2093.7,633.4 L2114.1,615.2 L2136.9,603.9 L2171.0,591.3 L2187.0,585.7 L2207.4,574.3 L2222.2,567.4 L2238.4,562.9 L2238.4,598.6 L2221.3,598.6 L2221.3,619.8 L2207.4,626.6 L2187.0,632.3 L2171.0,631.2 L2152.8,633.4 L2136.9,635.7 L2119.8,632.5 L2118.7,644.8 L2107.3,653.9 L2093.7,655.1Z M2080.0,681.2 L2102.8,672.1 L2119.8,667.6 L2134.6,669.9 L2119.8,683.5 L2119.8,700.4 L2102.8,700.4 L2102.8,717.4 L2086.8,717.4 L2080.0,724.5Z" fill="#97b6e1" fill-rule="nonzero"/>
<path d="M1301.2,378.1 L1318.3,378.1 L1318.3,395.1 L1301.2,395.1Z M1590.9,480.0 L1607.9,480.0 L1607.9,497.0 L1590.9,497.0Z M1676.1,463.0 L1693.1,463.0 L1693.1,480.0 L1676.1,480.0Z M1693.1,446.1 L1710.1,446.1 L1710.1,463.0 L1693.1,463.0Z M1659.0,412.1 L1676.1,412.1 L1676.1,429.1 L1659.0,429.1Z M1420.5,1193.2 L1471.6,1193.2 L1471.6,1210.1 L1420.5,1210.1Z M1437.5,1244.1 L1454.6,1244.1 L1454.6,1261.1 L1437.5,1261.1Z" fill="#a7d0e4"/>
<path d="M1900.3,516.9 L1916.2,519.2 L1939.0,526.0 L1961.8,532.8 L1982.2,537.4 L1982.2,528.3 L1977.7,516.9 L1966.3,512.4 L1950.4,514.6 L1936.7,516.9 L1918.5,514.6Z" fill="#efefdb"/>
<path d="M284.7,179.9 L293.5,179.9 L295.0,187.7 L293.5,197.5 L292.5,205.3 L289.6,205.3 L287.7,197.5 L285.7,187.7Z M296.4,202.3 L307.1,201.4 L315.9,205.3 L317.9,209.2 L312.0,211.1 L311.0,220.9 L307.1,223.8 L303.2,217.0 L297.4,211.1 L296.4,207.2Z" fill="#000"/>
<path d="M315.9,179.9 L320.8,183.8 L323.7,188.7 L323.2,202.3 L326.6,205.8 L325.6,213.1 L323.2,219.9 L316.9,219.9 L309.1,232.5 L299.3,240.3 L293.5,237.4 L291.1,232.5 L285.7,232.5 L277.9,228.6 L258.4,218.9 L252.6,215.0 L245.8,207.2 L237.0,198.0 L232.1,207.2 L228.7,221.8 L229.2,228.6 L233.1,236.4 L233.6,246.2 L231.2,260.8 L230.2,273.5 L227.3,285.1 L239.0,291.0 L226.3,292.9 L224.3,299.7 L230.2,306.6 L224.3,317.3 M223.9,318.9 L215.9,326.9 L217.9,332.9 L209.9,354.9 L203.9,370.9 L193.9,390.9 L183.9,414.9 L173.9,438.8 L165.9,454.8 L157.1,472.8 L145.9,484.8 L135.9,498.8 L121.9,516.8 L123.9,530.8 L115.9,548.8 L113.9,562.8 L119.9,570.8 L113.9,580.8 L114.7,594.7 L112.0,604.7 L102.0,618.7 L92.0,638.7 L80.0,650.7 L76.0,666.7 L84.0,686.7 L88.0,702.7 L82.0,718.7 L78.8,730.7 L78.0,752.7 L74.0,754.7 L84.0,771.8 M76.0,760.0 L82.0,776.0 L90.0,788.0 L93.2,800.0 L94.8,812.0 L90.0,818.0 L104.0,832.0 L110.0,840.0 L106.0,851.9 L102.0,867.9 L106.0,883.9 L115.9,893.9 L119.9,903.9 L110.0,915.9 L106.0,931.9 L113.9,947.9 L119.9,967.9 L125.9,983.9 L135.9,999.9 L133.9,1011.8 L139.9,1023.8 L135.9,1039.8 L131.9,1055.8 L137.9,1063.8 L157.9,1071.8 L173.9,1079.8 L189.9,1091.8 L193.9,1103.8 L209.9,1115.8 L225.9,1119.8 L227.9,1133.8 L225.9,1139.8 L233.9,1137.8 L245.9,1147.8 L257.9,1163.8 L265.9,1179.7 L269.9,1195.7 L267.9,1207.7 L269.9,1225.7 L269.9,1239.7 L273.9,1255.7 L275.9,1267.7 L283.8,1275.7 L277.9,1283.7 L279.9,1295.7 L285.8,1311.7 L289.8,1319.7 L287.8,1335.7 L295.8,1347.6 L293.8,1357.2 M293.8,1357.2 L291.8,1372.0 L301.8,1380.0 L299.8,1392.0 L295.8,1402.0 L299.8,1416.0 L309.8,1428.0 L321.8,1441.9 L331.8,1449.9 L345.8,1473.9 L357.8,1495.9 L365.8,1507.9 L369.0,1519.9 L361.8,1533.9 L353.8,1545.9 L345.8,1549.9 L333.8,1551.9 L305.8,1541.9 L303.8,1547.9 L317.8,1561.9 L325.8,1573.9 L327.8,1587.9 L337.8,1595.9 L345.8,1601.8 L349.8,1609.8 L357.8,1611.8 L363.8,1625.8 L367.8,1629.8 L377.8,1627.8 L385.8,1629.8 L395.8,1621.8 L393.8,1637.8 L397.8,1647.8 L413.8,1667.8 L429.8,1677.8 L433.8,1689.8 L437.8,1703.8 L435.8,1721.8 L437.8,1723.8 L429.8,1743.8 L425.8,1753.8 L417.8,1767.7 L421.8,1781.7 L423.8,1785.7 L441.8,1789.7 L449.7,1793.7 L457.7,1805.7 L477.7,1825.7 L485.7,1837.7 L497.7,1853.7 L509.7,1863.7 L515.7,1873.7 L519.7,1885.7 L521.7,1905.7 L527.7,1915.7 L541.7,1909.7 L557.7,1901.7 L565.7,1885.7 L561.7,1873.7 L551.7,1869.7 L549.7,1857.7 L545.7,1849.7 L537.7,1833.7 L525.7,1821.7 L521.7,1825.7 L519.7,1833.7 L515.7,1829.7 L505.7,1823.7 L501.7,1809.7 L501.7,1793.7 L507.7,1781.7 L505.7,1773.7 L499.7,1765.8 L495.7,1749.8 L493.7,1733.8 L485.7,1725.8 L485.7,1701.8 L483.7,1677.8 L481.7,1661.8 L469.7,1645.8 L461.7,1633.8 L459.7,1625.8 L449.7,1617.8 L447.7,1595.9 L437.8,1585.9 L429.8,1571.9 L429.8,1559.9 L429.8,1545.9 L429.8,1533.9 L417.8,1525.9 L413.8,1505.9 L405.8,1495.9 L403.8,1485.9 L397.8,1469.9 L393.8,1461.9 L383.8,1449.9 L377.8,1437.9 L369.8,1428.0 L361.8,1414.0 L359.8,1402.0 L363.8,1386.0 L363.8,1372.0 L365.8,1358.0 M367.8,1357.2 L363.8,1339.7 L369.8,1315.7 L377.8,1307.7 L371.8,1295.7 L389.8,1311.7 L405.8,1327.7 L413.8,1329.7 L419.8,1325.7 L429.8,1335.7 L431.8,1345.6 L453.7,1357.2 M453.7,1358.0 L459.7,1364.0 L453.7,1370.0 L451.7,1390.0 L457.7,1410.0 L459.7,1430.0 L461.7,1441.9 L465.7,1457.9 L471.7,1471.9 L471.7,1481.9 L477.7,1487.9 L477.7,1505.9 L487.7,1521.9 L495.7,1545.9 L507.7,1551.9 L515.7,1569.9 L521.7,1579.9 L531.7,1589.9 L553.7,1593.9 L545.7,1605.8 L545.7,1621.8 L557.7,1639.8 L575.7,1649.8 L577.7,1665.8 L583.7,1675.8 L597.7,1677.8 L607.7,1689.8 L611.7,1701.8 L613.6,1709.8 L597.7,1721.8 L593.7,1741.8 L597.7,1749.8 L607.7,1751.8 L621.6,1745.8 L609.7,1757.8 L625.6,1759.8 L627.6,1767.7 L641.6,1777.7 L653.6,1789.7 L661.6,1797.7 L653.6,1793.7 L661.6,1813.7 L661.6,1821.7 L673.6,1833.7 L685.6,1841.7 L709.6,1869.7 L721.6,1889.7 L733.6,1909.7 L741.6,1929.7 L751.6,1939.6 L761.6,1961.6 M1261.8,1957.6 L1261.8,1947.2 L1263.8,1917.7 L1267.8,1889.7 L1275.8,1861.7 L1283.8,1837.7 L1295.8,1813.7 L1299.8,1789.7 L1297.8,1777.7 L1291.8,1749.8 L1287.8,1725.8 L1285.8,1713.8 L1291.8,1693.8 L1307.8,1673.8 L1319.8,1657.8 L1343.8,1641.8 L1367.8,1625.8 L1383.8,1617.8 L1403.8,1605.8 L1419.7,1591.9 L1435.7,1579.9 L1447.7,1571.9 L1467.7,1561.9 L1483.7,1557.9 L1503.7,1551.9 L1519.7,1551.9 L1543.7,1561.9 L1567.7,1563.9 L1583.6,1559.9 L1599.6,1553.9 L1607.6,1557.9 L1623.6,1565.9 L1631.6,1577.9 L1655.6,1585.9 L1663.6,1577.9 L1679.6,1575.9 L1687.6,1585.9 L1693.6,1573.9 L1695.6,1559.9 L1711.6,1565.9 L1719.6,1573.9 L1743.6,1577.9 L1751.5,1581.9 L1739.6,1589.9 L1731.6,1581.9 L1715.6,1553.9 L1719.6,1541.9 L1727.6,1525.9 L1711.6,1517.9 L1719.6,1509.9 L1735.6,1503.9 L1751.5,1499.9 L1783.5,1497.9 L1799.5,1495.9 L1803.5,1477.9 L1811.5,1493.9 L1827.5,1499.9 L1851.5,1489.9 L1879.5,1483.9 L1899.5,1481.9 L1919.4,1487.9 L1931.4,1493.9 L1943.4,1505.9 L1951.4,1521.9 L1971.4,1519.9 L1987.4,1511.9 M1981.9,1515.9 L2001.9,1501.9 L2003.9,1491.9 L2017.9,1487.9 L2037.9,1495.9 L2049.9,1505.9 L2065.9,1521.9 L2089.9,1537.9 L2105.8,1551.9 L2109.8,1577.9 L2105.8,1609.8 L2113.8,1625.8 L2125.8,1613.8 L2129.8,1617.8 L2117.8,1637.8 L2129.8,1653.8 L2145.8,1673.8 L2157.8,1669.8 L2161.8,1685.8 L2165.8,1697.8 L2169.8,1685.8 L2173.8,1701.8 L2181.8,1713.8 L2189.8,1725.8 L2209.8,1733.8 L2221.8,1749.8 L2229.8,1761.8 L2233.8,1771.7 L2253.8,1765.8 L2273.7,1753.8 L2277.7,1733.8 L2279.7,1713.8 L2279.7,1689.8 L2277.7,1669.8 L2273.7,1653.8 L2265.8,1637.8 L2253.8,1617.8 L2241.8,1597.9 L2225.8,1573.9 L2213.8,1553.9 L2201.8,1537.9 L2185.8,1513.9 L2169.8,1485.9 L2157.8,1453.9 L2149.8,1430.0 L2147.8,1402.0 L2153.8,1390.0 L2157.8,1370.0 L2159.8,1358.0 M2157.8,1357.2 L2165.8,1343.6 L2169.8,1335.7 L2167.8,1319.7 L2181.8,1309.7 L2197.8,1301.7 L2209.8,1287.7 L2221.8,1275.7 L2235.8,1255.7 L2239.8,1243.7 L2245.8,1231.7 L2253.8,1219.7 L2263.8,1205.7 L2273.7,1199.7 L2289.7,1197.7 L2293.7,1183.7 L2299.7,1171.8 L2309.7,1155.8 L2321.7,1141.8 L2341.7,1135.8 L2357.7,1135.8 L2367.7,1115.8 L2381.7,1099.8 L2395.7,1087.8 L2397.7,1075.8 L2393.7,1059.8 L2381.7,1047.8 L2369.7,1031.8 L2357.7,1011.8 L2349.7,995.9 L2345.7,975.9 L2353.7,951.9 L2357.7,931.9 L2363.7,903.9 L2369.7,879.9 L2371.7,859.9 L2373.7,855.9 L2381.7,836.0 L2389.7,820.0 L2393.7,800.0 L2391.7,780.0 M2389.5,780.0 L2387.2,765.4 L2375.9,758.6 L2373.6,749.5 L2380.4,740.4 L2385.0,731.3 L2398.6,717.7 L2421.4,697.2 L2439.6,690.3 L2462.3,679.0 L2478.3,672.1 L2482.8,663.0 L2489.6,658.5 L2501.0,653.9 L2512.4,656.2 L2526.1,649.4 L2544.3,638.0 L2544.3,631.2 L2537.4,622.1 L2523.8,615.2 L2530.6,619.8 L2535.2,628.9 L2526.1,635.7 L2517.0,635.7 L2507.9,628.9 L2503.3,619.8 L2487.4,613.0 L2482.8,608.4 L2487.4,597.0 L2494.2,587.9 L2485.1,578.8 L2480.5,572.0 L2482.8,562.9 L2484.0,551.5 L2487.4,540.1 L2491.9,526.5 L2494.2,515.1 L2498.8,508.3 L2505.6,503.7 L2512.4,499.2 L2521.5,492.3 L2530.6,487.8 L2532.9,474.1 L2535.2,460.5 L2537.4,451.4 L2544.3,449.1 L2548.8,453.7 L2560.0,449.1 M2561.5,446.8 L2569.6,444.8 L2575.6,436.7 L2581.7,432.6 L2589.8,424.6 L2597.8,418.5 L2603.9,410.4 L2601.9,400.3 L2597.8,392.2 L2601.9,388.2 L2612.0,384.1 L2628.2,374.0 L2630.2,366.0 L2638.3,368.0 L2648.4,355.8 L2660.5,339.7 L2670.6,323.5 L2670.6,309.4 L2690.8,307.3 L2682.7,317.5 L2675.7,335.6 L2675.7,347.8 L2688.8,341.7 L2707.0,337.7 L2737.3,321.5 L2715.1,339.7 L2711.0,351.8 L2692.8,345.7 L2678.7,368.0 L2664.5,388.2 L2656.5,400.3 L2650.4,410.4 L2650.4,430.6 L2654.4,446.8 L2662.5,456.9 L2672.6,454.9 L2684.8,463.0 L2694.9,458.9 L2696.9,450.8 L2707.0,440.7 L2713.0,420.5 L2719.1,400.3 L2719.1,390.2 L2727.2,376.1 L2739.3,378.1 L2747.4,372.0 L2743.4,363.9 L2763.6,353.8 L2783.8,337.7 L2804.0,315.4 L2824.2,297.2 M2824.2,275.0 L2816.1,273.0 L2793.9,277.0 L2783.8,271.0 L2763.6,291.2 L2743.4,291.2 L2731.2,297.2 L2713.0,299.3 L2698.9,299.3 L2692.8,299.3 L2698.9,287.1 L2678.7,287.1 L2664.5,289.2 L2652.4,273.0 L2642.3,264.9 L2640.3,252.8 L2632.2,250.8 L2620.1,254.8 L2622.1,244.7 L2626.1,228.5 L2628.2,210.3 L2616.0,208.3 L2605.9,218.4 L2595.8,227.5 L2585.7,218.4 L2559.5,218.4 L2549.3,220.4 L2543.3,226.5 L2553.4,216.4 L2569.6,206.3 L2573.6,202.3 L2597.8,204.3 L2614.0,181.0 M2505.6,181.0 L2489.6,195.0 L2473.6,215.0 L2453.6,239.0 L2441.6,262.9 L2433.6,286.9 L2425.7,306.9 L2417.7,326.9 L2405.7,342.9 L2381.7,362.9 L2361.7,378.9 L2341.7,398.9 L2329.7,422.9 L2321.7,450.8 L2313.7,462.8 L2285.7,498.8 L2281.7,500.8 L2309.7,470.8 L2321.7,454.8 L2325.7,434.8 L2337.7,406.9 L2365.7,378.9 L2377.7,366.9 L2397.7,350.9 L2409.7,334.9 L2421.7,306.9 L2427.7,286.9 L2425.7,258.9 L2437.6,239.0 L2445.6,219.0 L2457.6,199.0 L2461.6,181.0 M234.1,179.9 L245.8,188.7 L258.4,199.4 L268.2,207.2 L277.9,215.0 L284.7,212.1 L289.6,214.0 L292.0,211.1 L290.6,202.3 L288.6,192.6 L285.7,179.9 M297.4,179.9 L296.4,187.7 L298.4,195.5 M306.2,203.3 L312.0,202.3 L316.9,208.2 L314.0,211.1 L310.1,210.1 L311.0,220.9 L307.1,222.8 L303.2,215.0 L298.4,210.1 L297.4,205.3 L301.3,203.3 L306.2,203.3 M309.1,179.9 L311.0,183.8 L314.9,186.8 M215.9,328.1 L237.9,334.9 L241.9,342.1 L249.1,346.9 M657.6,288.9 L817.5,320.9 M316.9,219.9 L315.4,223.8 L320.8,228.6 L323.2,235.5 L319.8,240.3 L323.2,246.2 L323.7,253.0 L316.9,258.8 L313.0,263.7 L311.0,273.5 L308.1,286.1 L302.3,292.0 L292.5,292.9 L287.7,298.8 L283.8,296.3 L275.0,292.9 L279.9,285.1 L285.7,283.2 L290.6,287.1 L297.4,279.3 L301.3,270.5 L304.2,261.8 L297.4,264.7 L287.7,269.6 L280.8,274.4 L284.7,281.2 L275.0,279.3 L276.0,273.5 L282.8,266.6 L295.5,257.9 L305.2,254.0 L306.7,246.2 L304.7,240.3 L299.3,240.3 M307.1,224.8 L314.9,230.6 L319.8,240.3 L320.8,248.1 L315.9,255.9 M309.1,238.4 L312.0,246.2 L311.0,255.9 L307.1,265.7 L303.2,275.4 M287.7,285.1 L293.5,290.0 L298.4,285.1 L303.2,277.3 M297.4,180.9 L299.3,189.7 L303.2,197.5 M2664.5,262.9 L2672.6,236.6 L2676.7,244.7 L2676.7,254.8 L2682.7,262.9 L2692.8,260.9 L2702.9,258.8 L2723.2,254.8 L2743.4,244.7 L2761.6,238.6 L2753.5,248.7 L2747.4,258.8 L2751.4,271.0 L2743.4,277.0 L2733.3,275.0 L2723.2,273.0 L2713.0,275.0 L2700.9,273.0 L2692.8,271.0 L2682.7,266.9 L2676.7,262.9 L2664.5,262.9 M2824.2,181.0 L2804.0,181.0 L2797.9,198.2 L2793.9,228.5 L2795.9,248.7 L2804.0,264.9 L2816.1,271.0 L2824.2,271.0 M2741.3,181.0 L2743.4,190.1 L2747.4,196.2 L2753.5,192.1 L2749.4,186.1 L2751.4,181.0 M2611.0,408.4 L2617.0,412.4 L2615.0,420.5 L2611.0,418.5 L2611.0,408.4 M2375.9,754.1 L2387.2,747.2 L2410.0,735.9 L2432.8,722.2 L2448.7,713.1 L2469.2,697.2 L2453.2,706.3 L2435.0,713.1 L2416.8,722.2 L2398.6,726.8 L2387.2,733.6 L2378.1,745.0 L2375.9,754.1 M2510.1,665.3 L2523.8,658.5 L2517.0,664.2 L2510.1,665.3 M2537.4,660.8 L2548.8,658.5 L2544.3,651.7 L2537.4,660.8 M2632.2,190.1 L2634.2,200.2 L2630.2,208.3 M1955.9,193.0 L1969.9,181.0 M1989.9,181.0 L2001.9,189.0 L2017.9,203.0 M1955.4,193.0 L1963.4,187.0 L1971.4,181.0 M2369.7,255.0 L2393.7,254.2 L2425.7,258.9 M110.0,820.0 L115.9,818.0 L123.9,824.0 L133.9,826.0 L145.9,832.0 L157.9,838.0 M112.0,828.0 L110.0,840.0 L115.9,855.9 L119.9,861.9 M129.9,1089.8 L137.9,1091.8 L145.9,1101.8 L139.9,1097.8 L129.9,1089.8 M155.9,1095.8 L165.9,1099.8 L175.9,1103.0 L161.9,1103.8 L155.9,1095.8 M157.9,1147.8 L165.9,1151.0 L163.9,1155.0 L157.9,1147.8 M211.9,1151.8 L225.9,1163.8 L221.9,1165.8 L213.9,1159.8 L211.9,1151.8 M203.9,1177.7 L209.9,1179.7 L213.9,1193.7 L207.9,1191.7 L203.9,1177.7 M2315.7,1089.8 L2333.7,1091.8 L2345.7,1087.8 L2361.7,1089.8 L2369.7,1075.8 L2377.7,1063.8 M2321.7,1111.8 L2337.7,1119.8 L2353.7,1115.8 L2361.7,1123.8 L2349.7,1135.8 M2321.7,1043.8 L2325.7,1059.8 L2341.7,1055.8 L2353.7,1039.8 L2369.7,1039.8 L2377.7,1055.8 M2275.7,931.9 L2289.7,943.9 L2309.7,955.9 L2321.7,967.9 L2325.7,983.9 M2281.7,983.9 L2297.7,983.9 L2313.7,987.9 L2329.7,991.9 M2301.7,967.9 L2313.7,975.9 L2321.7,981.9 M2263.8,887.9 L2265.8,911.9 L2269.7,919.9 L2289.7,923.9 L2305.7,927.9 L2313.7,935.9 M2289.7,859.9 L2293.7,879.9 L2301.7,895.9 L2309.7,907.9 L2313.7,923.9 M2349.7,995.9 L2333.7,993.9 L2325.7,989.9 L2317.7,975.9 L2313.7,963.9 L2309.7,951.9 L2301.7,935.9 L2293.7,919.9 L2289.7,903.9 L2289.7,879.9 L2293.7,859.9 L2301.7,847.9 L2307.7,838.0 L2313.7,843.9 L2315.7,863.9 L2321.7,891.9 L2329.7,911.9 L2341.7,927.9 L2349.7,943.9 L2347.7,959.9 L2345.7,975.9 M2371.7,859.9 L2353.7,847.9 L2337.7,840.0 L2327.7,828.0 L2329.7,812.0 L2341.7,804.0 L2353.7,788.0 L2345.7,800.0 L2333.7,812.0 L2329.7,828.0 L2345.7,840.0 L2365.7,851.9 L2373.7,855.9 M143.9,1412.0 L149.9,1414.0 L151.9,1424.0 L147.9,1430.0 L143.9,1422.0 L143.9,1412.0 M289.8,1521.9 L297.8,1509.9 L303.8,1509.9 L303.8,1521.9 L299.8,1527.9 L289.8,1521.9 M407.8,1455.9 L413.8,1453.9 L417.8,1465.9 L425.8,1475.9 L425.0,1491.9 L417.8,1483.9 L409.8,1469.9 L407.8,1455.9 M457.7,1509.9 L463.7,1491.9 L473.7,1489.9 L475.7,1503.9 L469.7,1517.9 L463.7,1519.9 L457.7,1509.9 M463.7,1645.8 L469.7,1641.8 L471.7,1661.8 L467.7,1663.8 L463.7,1645.8 M489.7,1713.8 L493.7,1701.8 L500.9,1701.8 L497.7,1707.8 L489.7,1713.8 M507.7,1769.7 L513.7,1767.7 L517.7,1781.7 L511.7,1779.7 L507.7,1769.7 M545.7,1823.7 L549.7,1821.7 L553.7,1835.7 L549.7,1836.9 L545.7,1823.7 M671.6,1835.7 L685.6,1835.7 L689.6,1845.7 L681.6,1843.7 L671.6,1835.7 M429.8,1737.8 L423.8,1757.8 L415.8,1767.7 L425.8,1785.7 L443.8,1803.7 M345.8,1549.9 L353.8,1547.9 L349.8,1557.9 L355.8,1565.9 L349.8,1561.9 L343.8,1553.9 M1421.7,1557.9 L1435.7,1555.9 L1439.7,1567.9 L1447.7,1567.9 M1331.8,1619.8 L1339.8,1633.8 L1351.8,1625.8 L1367.8,1625.8 M1301.8,1655.8 L1315.8,1653.8 L1319.8,1647.8 M1287.8,1673.8 L1303.8,1669.8 L1307.8,1681.8 M1265.8,1697.8 L1275.8,1705.8 L1283.8,1711.8 M1279.8,1729.8 L1283.8,1757.8 L1295.8,1785.7 M1755.5,1519.9 L1761.5,1533.9 L1755.5,1545.9 M1675.6,1509.9 L1695.6,1507.9 L1715.6,1515.9 L1703.6,1521.9 L1687.6,1527.9 L1671.6,1521.9 L1675.6,1509.9 M2197.8,1817.7 L2209.8,1809.7 L2221.8,1801.7 L2241.8,1799.7 L2253.8,1789.7 L2261.8,1781.7 L2269.7,1769.7 L2277.7,1753.8 M2205.8,1541.9 L2225.8,1573.9 L2261.8,1633.8 M2333.7,1651.8 L2349.7,1659.8 L2369.7,1647.8 L2395.7,1639.8 L2393.7,1635.8 L2369.7,1641.8 L2355.7,1639.8 L2349.7,1649.8 L2333.7,1651.8 M2389.7,1625.8 L2413.7,1621.8 L2429.7,1633.8 L2445.6,1637.8 L2449.6,1649.8 L2441.6,1657.8 L2445.6,1679.8 L2433.6,1673.8 L2437.6,1657.8 L2437.6,1643.8 L2425.7,1635.8 L2409.7,1625.8 L2389.7,1625.8 M2399.7,1735.8 L2409.7,1737.8 L2421.7,1749.8 L2433.6,1761.8 L2437.6,1773.7 L2425.7,1785.7 L2409.7,1777.7 L2393.7,1773.7 L2403.7,1761.8 L2399.7,1735.8 M2425.7,1793.7 L2441.6,1787.7 L2453.6,1797.7 L2457.6,1819.7 L2445.6,1821.7 L2437.6,1809.7 L2425.7,1793.7 M2477.6,1693.8 L2493.6,1701.8 L2517.6,1713.8 L2521.6,1725.8 L2523.6,1743.8 L2513.6,1735.8 L2517.6,1721.8 L2501.6,1709.8 L2481.6,1701.8 L2477.6,1693.8 M2437.6,1735.8 L2445.6,1731.8 L2455.6,1733.8 L2445.6,1737.8 L2437.6,1735.8 M2547.6,1733.8 L2565.6,1749.8 L2581.6,1759.8 L2569.6,1765.8 L2553.6,1745.8 L2547.6,1733.8 M2627.5,1749.8 L2633.5,1753.8 L2629.5,1761.8 L2625.5,1757.8 L2627.5,1749.8 M2587.6,1791.7 L2601.5,1809.7 L2605.5,1821.7 L2625.5,1829.7 L2629.5,1835.7 L2605.5,1825.7 L2597.6,1813.7 L2587.6,1791.7 M2545.6,1801.7 L2571.6,1809.7 L2565.6,1813.7 L2547.6,1807.7 L2545.6,1801.7 M2659.5,1829.7 L2673.5,1833.7 L2685.5,1827.7 L2693.5,1841.7 L2685.5,1857.7 L2673.5,1869.7 L2685.5,1845.7 L2673.5,1833.7 L2661.5,1833.7 L2659.5,1829.7 M2733.5,1835.7 L2761.5,1833.7 L2757.5,1839.7 L2735.5,1839.7 L2733.5,1835.7 M2793.4,1859.7 L2809.4,1857.7 L2807.4,1863.7 L2795.4,1865.7 L2793.4,1859.7 M2809.4,1845.7 L2821.4,1843.7 L2819.4,1851.7 L2809.4,1845.7 M2727.5,1927.7 L2745.5,1917.7 L2761.5,1905.7 L2765.5,1917.7 L2759.5,1927.7 L2733.5,1937.6 L2727.5,1927.7 M2755.5,1891.7 L2763.5,1887.7 L2767.4,1893.7 L2759.5,1895.7 L2755.5,1891.7 M2117.8,1957.6 L2117.8,1947.2 L2137.8,1937.6 L2165.8,1925.7 L2189.8,1907.7 L2209.8,1905.7 L2233.8,1905.7 L2247.8,1901.7 L2253.8,1905.7 L2281.7,1897.7 L2297.7,1903.7 L2313.7,1901.7 L2329.7,1903.7 L2345.7,1909.7 L2369.7,1925.7 L2393.7,1921.7 L2409.7,1921.7 L2433.6,1929.7 L2457.6,1937.6 L2465.6,1947.2 L2473.6,1957.6 L2117.8,1957.6 M2347.7,1903.7 L2357.7,1907.7 L2369.7,1913.7 M2405.7,1909.7 L2425.7,1907.7 L2441.6,1913.7 L2457.6,1921.7 L2473.6,1927.7 L2477.6,1937.6 L2461.6,1933.6 M2481.6,1937.6 L2493.6,1941.6" fill="none" stroke="#000" stroke-width="4.5" stroke-linejoin="round" stroke-linecap="round"/>
<path d="M249.1,346.9 L255.9,350.9 L257.9,362.9 L257.1,380.9 L269.9,388.9 L279.9,394.1 L293.8,390.9 L309.8,396.1 L317.8,404.9 L333.8,406.9 L357.8,410.1 L373.8,408.9 L401.8,410.9 L411.8,411.7 L429.8,416.9 L469.7,428.8 L498.5,435.6 M498.5,435.6 L499.7,414.9 L501.7,408.9 L540.9,259.7 M578.5,270.9 L565.7,326.9 L573.7,362.9 L587.7,382.9 L596.9,414.9 L613.6,424.9 L601.7,450.8 L597.7,470.8 L589.7,482.8 L595.7,492.8 L613.6,484.8 L620.8,490.8 L627.6,526.8 L637.6,548.8 L641.6,570.8 L669.6,568.8 L705.6,574.8 L711.6,566.8 L719.6,576.8 L727.6,552.8 M498.5,435.6 L509.7,462.0 L485.7,490.8 L465.7,516.8 L459.7,524.8 L469.7,540.8 L455.7,568.8 L429.8,667.5 M119.9,570.8 L295.8,630.7 L429.8,667.5 L557.7,701.9 L689.6,730.7 M295.8,630.7 L255.9,771.8 M557.7,701.9 L543.7,771.8 M727.6,552.8 L721.6,578.8 L689.6,730.7 L685.6,771.8 M727.6,552.8 L735.6,552.8 L1015.0,596.7 M237.0,191.6 L245.8,198.9 L254.5,206.2 L263.3,214.0 L272.1,220.9 L282.8,223.8 L292.5,220.9 L297.4,217.0 L302.3,207.2 L305.2,197.5 L303.2,187.7 L303.2,180.9 M633.6,181.0 L647.6,199.0 L647.6,227.0 L639.6,247.0 L643.6,262.9 L653.6,280.9 L657.6,288.9 M1036.0,540.8 L1347.8,559.6 M1054.0,356.9 L1036.0,540.8 L1026.0,596.7 L1010.0,771.8 M1000.0,592.7 L1026.0,596.7 M1327.8,373.7 L1327.8,414.9 L1333.8,446.8 L1339.8,462.8 L1340.6,494.8 L1341.8,526.8 L1349.8,536.8 L1349.8,559.6 L1349.8,568.8 L1337.8,578.8 L1343.8,590.8 L1353.8,598.7 L1353.8,708.7 L1347.8,714.7 L1351.8,734.7 L1343.8,758.6 L1351.8,771.8 M1014.0,718.7 L1259.8,734.7 L1275.8,744.7 L1287.8,746.7 L1311.8,744.7 L1339.8,758.6 L1351.8,770.6 M1349.8,707.9 L1579.7,703.9 M1533.7,514.8 L1529.7,550.8 L1513.7,558.8 L1505.7,574.8 L1513.7,586.8 L1511.7,626.7 L1515.7,634.7 L1535.7,644.7 L1551.7,658.7 L1559.7,666.7 L1577.7,674.7 L1583.6,702.7 L1589.6,714.7 L1591.6,742.7 L1615.6,754.7 L1617.6,762.6 M1617.6,761.8 L1741.6,752.7 M1530.4,512.5 L1542.6,502.3 L1552.8,494.2 L1569.0,473.9 L1585.2,457.7 L1601.5,445.5 L1613.6,439.4 L1629.9,429.3 L1642.0,425.2 L1650.2,407.0 L1651.2,394.8 L1660.3,389.7 L1670.5,388.7 L1676.5,370.4 L1684.7,360.3 L1696.8,360.3 L1707.0,364.4 L1717.1,366.4 L1738.4,368.4 L1757.7,366.4 L1765.8,375.5 L1773.9,394.8 L1780.0,403.9 L1788.1,410.0 L1810.5,411.0 L1829.7,411.0 L1826.7,421.2 L1827.7,432.3 L1845.0,444.5 L1841.9,455.7 L1840.9,469.9 L1853.1,473.9 M1540.6,510.5 L1560.9,504.4 L1581.2,496.2 L1591.3,492.2 L1605.5,486.1 M1609.6,514.5 L1625.8,504.4 L1642.0,496.2 L1654.2,491.2 L1670.5,478.0 L1678.6,469.9 L1694.8,455.7 L1713.1,451.6 L1698.9,467.8 L1690.7,482.0 L1697.8,485.1 L1719.2,488.1 L1727.3,494.2 L1735.4,503.4 L1749.6,506.4 L1763.8,506.4 L1771.9,502.3 L1788.1,491.2 L1804.4,488.1 L1822.6,483.1 L1832.8,480.0 M1642.0,425.2 L1654.2,417.1 L1670.5,409.0 L1686.7,403.9 L1723.2,421.2 L1763.8,439.4 L1800.3,455.7 L1832.8,469.9 L1840.9,473.9 L1853.1,482.0 M1786.1,425.2 L1792.2,421.2 L1800.3,425.2 L1792.2,427.3 L1786.1,425.2 M1700.0,543.1 L1722.8,560.1 L1725.0,573.8 L1731.9,587.5 L1734.1,594.3 L1729.6,603.4 L1722.8,614.8 L1720.5,621.6 M1754.6,541.9 L1761.5,548.8 L1754.6,555.6 L1752.4,567.0 L1745.5,578.4 L1741.0,587.5 L1734.1,605.7 L1727.3,619.3 L1722.8,628.4 M1763.7,571.5 L1756.9,582.9 L1752.4,596.6 L1745.5,610.2 L1743.2,619.3 L1742.1,642.1 L1738.7,664.8 L1736.4,694.4 L1734.1,705.8 L1737.6,721.8 L1741.0,744.5 L1742.1,753.6 L1745.5,774.1 L1754.6,787.8 L1761.5,800.0 M1775.1,548.8 L1788.8,537.4 L1802.4,532.8 L1818.4,526.0 L1829.7,523.7 L1841.1,528.3 L1847.9,532.8 M1842.3,539.7 L1842.3,564.7 L1832.0,569.3 L1818.4,582.9 L1804.7,596.6 L1797.9,614.8 L1795.6,637.5 L1791.0,653.5 L1793.3,676.2 L1795.6,692.2 L1804.7,705.8 L1809.3,719.5 L1811.5,733.1 L1809.3,751.3 L1804.7,765.0 L1797.9,778.7 L1791.0,790.0 L1784.2,796.9 M1793.3,790.0 L1882.1,782.1 L1945.8,775.2 M1863.9,535.1 L1882.1,551.0 L1898.0,555.6 L1914.0,560.1 L1916.2,573.8 L1918.5,587.5 L1923.1,601.1 L1924.2,614.8 L1918.5,623.9 L1911.7,639.8 L1902.6,648.9 L1904.8,660.3 L1914.0,662.6 L1921.9,655.7 L1927.6,642.1 L1936.7,633.0 L1948.1,633.0 L1957.2,639.8 L1964.0,655.7 L1968.6,669.4 L1973.1,681.9 L1976.5,684.2 L1976.5,714.9 L1973.1,719.5 L1961.8,724.0 L1959.5,735.4 L1952.6,744.5 L1952.6,755.9 L1952.6,762.7 L1966.3,783.2 L1986.8,787.8 L2002.7,783.2 L2018.7,776.4 L2034.6,765.0 L2050.5,751.3 L2068.7,737.7 L2086.9,724.0 L2105.1,710.4 L2121.1,696.7 L2132.5,678.5 M1982.2,751.3 L1993.6,737.7 L2009.5,726.3 L2023.2,708.1 L2041.4,701.3 L2064.2,701.3 L2073.3,696.7 L2086.9,685.3 L2107.4,676.2 L2132.5,671.7 M1859.3,489.6 L1873.0,498.7 L1893.5,503.2 L1916.2,503.2 L1945.8,499.8 L1973.1,501.0 L1982.2,504.4 L2002.7,503.2 L2018.7,505.5 L2030.0,516.9 L2046.0,528.3 L2057.3,539.7 L2064.2,555.6 L2073.3,564.7 L2064.2,571.5 L2061.9,582.9 L2050.5,584.0 L2036.9,578.4 L2025.5,580.6 L2018.7,571.5 L2007.3,567.0 L2002.7,555.6 L1993.6,548.8 L1984.5,553.3 L1995.9,564.7 L2007.3,578.4 L2008.4,592.0 L2000.4,605.7 L1997.0,619.3 L2000.4,637.5 L2002.7,658.0 L1995.9,671.7 L1984.5,685.3 L1976.5,684.2 M1900.3,516.9 L1916.2,519.2 L1939.0,526.0 L1961.8,532.8 L1982.2,537.4 L1982.2,528.3 L1977.7,516.9 L1966.3,512.4 L1950.4,514.6 L1936.7,516.9 L1918.5,514.6 L1900.3,516.9 M1836.6,464.6 L1845.7,482.8 L1859.3,494.1 L1873.0,505.5 L1904.8,523.7 L1939.0,539.7 L1950.4,551.0 L1961.8,596.6 L1973.1,630.7 L1980.0,653.5 L1982.2,676.2 L1976.5,684.2 L1976.5,714.9 L1973.1,724.0 L1959.5,735.4 L1982.2,753.6 L2018.7,740.0 L2052.8,721.8 L2086.9,703.5 L2121.1,685.3 L2134.7,672.8 M2073.3,737.7 L2084.7,800.0 M2102.9,730.9 L2160.0,719.5 M2280.3,501.4 L2262.1,515.1 L2253.0,526.5 L2246.1,540.1 L2239.3,553.8 L2225.7,562.9 L2207.4,572.0 L2187.0,581.1 L2175.6,585.7 L2155.1,599.3 L2125.5,619.8 L2118.7,633.4 L2121.0,644.8 L2127.8,660.8 L2134.6,669.9 M2090.2,648.2 L2093.7,633.4 L2114.1,615.2 L2136.9,603.9 L2171.0,591.3 L2187.0,585.7 L2207.4,574.3 L2222.2,567.4 L2239.3,562.9 M2093.7,655.1 L2107.3,653.9 L2118.7,644.8 L2136.9,635.7 L2152.8,633.4 L2171.0,631.2 L2187.0,632.3 L2207.4,626.6 L2222.2,619.8 L2239.3,603.9 M2080.0,681.2 L2102.8,672.1 L2119.8,667.6 L2134.6,669.9 M2080.0,724.5 L2086.8,717.4 L2102.8,708.5 L2119.8,690.3 L2134.6,672.1 M2337.2,485.5 L2348.5,515.1 L2353.1,535.6 L2359.9,567.4 L2366.8,567.4 L2373.6,590.2 L2378.1,608.4 L2380.4,616.4 M2414.5,462.8 L2419.1,485.5 L2416.8,499.2 L2406.6,508.3 L2405.4,531.0 L2405.4,565.2 L2408.9,585.7 L2410.0,603.9 L2414.5,607.3 M2428.2,443.4 L2435.0,462.8 L2444.1,485.5 L2453.2,508.3 L2462.3,535.6 L2469.2,549.2 L2476.0,557.2 M2380.4,616.4 L2414.5,607.3 L2464.6,594.8 L2480.5,576.5 M2380.4,616.4 L2381.5,656.2 L2385.0,679.0 L2389.5,699.4 L2394.1,708.5 L2391.8,722.2 M2382.7,659.6 L2414.5,651.7 L2455.5,640.3 L2476.0,633.4 L2480.5,644.8 M2455.5,640.3 L2466.9,676.7 M2102.8,725.6 L2111.9,729.0 L2171.0,717.7 L2239.3,701.7 L2296.2,685.8 L2307.6,688.1 L2321.2,704.0 L2337.2,713.1 L2353.1,718.8 L2378.1,725.6 M2337.2,713.1 L2330.3,731.3 L2326.9,742.7 L2329.2,758.6 L2332.6,767.7 L2346.3,780.0 M2420.0,444.8 L2432.1,456.9 L2440.2,477.1 M269.9,1225.7 L393.8,1247.7 L385.8,1259.7 L535.7,1357.2 M257.9,760.0 L243.9,806.0 L429.8,1109.8 M429.8,1109.8 L437.8,1147.8 L447.7,1155.8 L425.8,1175.8 L417.8,1195.7 L403.8,1211.7 L401.8,1223.7 L409.8,1239.7 L401.8,1249.7 L393.8,1247.7 M429.8,1109.8 L441.8,1047.8 L453.7,1045.8 L465.7,1055.8 L477.7,1047.8 L489.7,999.9 L545.7,760.0 M489.7,999.9 L729.6,1047.8 M769.6,812.0 L729.6,1047.8 L679.6,1357.2 M729.6,1047.8 L1015.0,1087.8 M681.6,790.0 L1001.4,840.0 L1017.4,842.0 M687.6,760.0 L681.6,790.0 M1001.4,840.0 L1009.4,760.0 M1017.4,1163.8 L997.4,1357.2 M1000.0,840.0 L1093.9,849.9 M1093.9,849.9 L1089.9,909.9 L1074.0,1091.8 M1089.9,909.9 L1399.8,921.9 M1000.0,1085.8 L1074.0,1091.8 L1437.7,1104.6 M1399.8,921.9 L1423.7,931.9 L1415.8,947.9 L1419.7,959.9 L1437.7,975.9 L1437.7,1104.6 L1437.7,1135.8 M1383.8,883.9 L1567.7,879.9 L1583.6,891.9 M1347.8,760.0 L1355.8,772.0 L1367.8,800.0 L1369.8,832.0 L1377.8,845.9 L1379.8,875.9 L1383.8,883.9 L1389.8,901.9 L1399.8,921.9 M1615.6,760.0 L1639.6,788.0 L1627.6,820.0 L1599.6,836.0 L1605.6,855.9 L1595.6,875.9 L1583.6,891.9 M1583.6,891.9 L1583.6,919.9 L1591.6,935.9 L1619.6,959.9 L1627.6,979.9 L1651.6,983.9 L1641.6,1019.8 L1655.6,1035.8 L1683.6,1053.8 L1689.6,1071.8 L1691.6,1087.8 L1703.6,1095.8 L1709.6,1107.8 L1703.6,1119.8 L1691.6,1123.8 L1679.6,1159.8 L1675.6,1175.8 L1663.6,1219.7 L1647.6,1239.7 L1639.6,1255.7 L1627.6,1275.7 L1619.6,1299.7 L1623.6,1327.7 L1621.6,1357.2 M1437.7,1135.8 L1655.6,1127.8 L1663.6,1139.8 L1651.6,1159.8 L1683.6,1157.8 M1437.7,1135.8 L1447.7,1195.7 L1447.7,1311.7 M1165.9,1245.7 L1191.9,1259.7 L1207.9,1271.7 L1239.9,1279.7 L1263.8,1279.7 L1275.8,1295.7 L1303.8,1295.7 L1319.8,1291.7 L1351.8,1307.7 L1367.8,1299.7 L1391.8,1293.7 L1407.8,1295.7 L1439.7,1311.7 L1455.7,1315.7 L1469.7,1317.7 M1024.0,1117.8 L1169.9,1129.8 L1165.9,1245.7 M1024.0,1089.8 L1024.0,1117.8 L1000.0,1347.6 M1469.7,1317.7 L1471.7,1349.6 L1621.6,1345.6 M1757.5,760.0 L1759.5,800.0 L1771.5,935.9 L1767.5,955.9 L1775.5,975.9 L1759.5,1007.9 L1755.5,1039.8 L1751.5,1057.8 L1735.6,1067.8 L1739.6,1083.8 M1755.5,1039.8 L1771.5,1031.8 L1783.5,1027.8 L1799.5,1033.8 L1815.5,1023.8 L1823.5,1027.8 L1839.5,1009.9 L1855.5,1015.8 L1867.5,995.9 L1877.5,967.9 L1905.5,955.9 L1899.5,939.9 M1881.5,782.0 L1901.5,939.9 M1899.5,939.9 L1919.4,941.9 L1935.4,955.9 L1959.4,959.9 L1987.4,957.9 M1687.6,1123.8 L1763.5,1117.8 L1763.5,1107.8 L1987.4,1085.8 M1661.6,1219.7 L1769.5,1211.7 L1893.5,1197.7 L1987.4,1185.7 M1769.5,1211.7 L1769.5,1357.2 M1893.5,1197.7 L1947.4,1357.2 M1795.5,792.0 L1881.5,782.0 L1947.4,774.0 M1987.4,1147.8 L1967.4,1159.8 L1959.4,1187.7 M1850.0,786.0 L1945.9,776.0 M1882.0,780.0 L1902.0,939.9 M2077.9,760.0 L2097.9,871.9 M2097.9,871.9 L2145.8,863.9 L2209.8,849.9 L2317.7,822.0 L2325.7,814.0 M2327.7,760.0 L2355.7,788.0 L2343.7,800.0 L2329.7,812.0 M2317.7,824.0 L2321.7,840.0 L2337.7,895.9 L2365.7,891.9 M2145.8,863.9 L2149.8,891.9 L2169.8,875.9 L2181.8,867.9 L2201.8,865.9 L2227.8,879.9 L2245.8,875.9 L2273.7,887.9 M2201.8,865.9 L2197.8,891.9 L2181.8,911.9 L2173.8,935.9 L2153.8,933.9 L2145.8,959.9 L2133.8,987.9 L2131.8,1003.9 L2105.8,1015.8 L2089.9,1025.8 L2073.9,1033.8 L2057.9,1027.8 L2045.9,1015.8 M2081.9,824.0 L2085.9,840.0 L2081.9,879.9 L2057.9,899.9 L2041.9,927.9 L2025.9,935.9 L2017.9,967.9 L2015.9,983.9 L2037.9,1011.8 L2045.9,1015.8 M2045.9,1023.8 L2021.9,1039.8 L2005.9,1067.8 L1981.9,1085.8 M1902.0,939.9 L1930.0,955.9 L1957.9,959.9 L1985.9,955.9 L1997.9,951.9 L2015.9,967.9 M1850.0,1099.8 L1981.9,1085.8 L2073.9,1069.8 L2353.7,1013.8 M2073.9,1069.8 L2077.9,1079.8 L2065.9,1095.8 L2041.9,1111.8 L2025.9,1119.8 L2001.9,1143.8 L1981.9,1149.8 L1965.9,1163.8 L1961.9,1183.7 L2021.9,1179.7 L2057.9,1159.8 L2121.8,1153.8 L2137.8,1167.8 L2197.8,1161.8 L2261.8,1203.7 M2021.9,1179.7 L2013.9,1195.7 L2037.9,1211.7 L2057.9,1235.7 L2089.9,1259.7 L2105.8,1275.7 L2121.8,1287.7 L2137.8,1311.7 L2153.8,1331.7 L2161.8,1339.7 M1850.0,1201.7 L1894.0,1197.7 L1961.9,1187.7 M1894.0,1197.7 L1922.0,1279.7 L1945.9,1351.6 M521.7,1350.0 L565.7,1376.0 L673.6,1394.0 L715.6,1402.0 L721.6,1376.0 L805.5,1386.0 L809.5,1390.0 L825.5,1410.0 L853.5,1437.9 L877.5,1465.9 L893.5,1509.9 L901.5,1533.9 L925.5,1557.9 L965.4,1581.9 L989.4,1557.9 L997.4,1541.9 L1017.4,1535.9 M679.6,1350.0 L671.6,1394.0 M803.5,1374.0 L989.4,1396.0 L997.4,1350.0 M1000.0,1541.9 L1024.0,1531.9 L1072.0,1541.9 L1095.9,1569.9 L1107.9,1585.9 L1115.9,1605.8 L1123.9,1629.8 L1135.9,1645.8 L1147.9,1665.8 L1163.9,1681.8 L1167.9,1697.8 L1169.9,1721.8 L1179.9,1733.8 L1187.9,1759.8 L1207.9,1769.7 L1239.9,1783.7 L1263.8,1789.7 L1283.8,1797.7 L1297.8,1789.7 M1483.7,1553.9 L1491.7,1533.9 L1491.7,1509.9 L1499.7,1469.9 L1491.7,1457.9 L1479.7,1430.0 L1471.7,1414.0 L1471.7,1350.0 M1471.7,1350.0 L1623.6,1350.0 L1623.6,1374.0 L1635.6,1388.0 L1615.6,1418.0 L1607.6,1445.9 L1601.6,1469.9 L1703.6,1465.9 L1703.6,1485.9 L1715.6,1509.9 L1719.6,1513.9 M1769.5,1350.0 L1767.5,1410.0 L1779.5,1497.9 M1819.5,1455.9 L1955.4,1439.9 L1967.4,1457.9 L1987.4,1455.9 M1819.5,1455.9 L1831.5,1473.9 L1831.5,1493.9 M1947.4,1350.0 L1953.4,1362.0 L1947.4,1390.0 L1953.4,1437.9 L1955.4,1439.9 M1850.0,1451.9 L1953.9,1439.9 L1967.9,1455.9 L2113.8,1443.9 L2121.8,1453.9 L2121.8,1428.0 L2147.8,1426.0 M1947.9,1350.0 L1953.9,1362.0 L1945.9,1390.0 L1951.9,1410.0 L1953.9,1435.9 L1967.9,1455.9" fill="none" stroke="#000" stroke-width="4.5" stroke-dasharray="5.2 5.8"/>
<path d="M843.5,181.0 L817.5,320.9 M1408.6,181.0 L1407.8,350.9 M1161.9,181.0 L1159.9,360.9 M2009.9,199.0 L2049.9,394.9 L2057.9,414.9 L2089.9,454.8 L2129.8,460.8 L2145.8,460.8 L2169.8,474.8 L2181.8,470.8 L2197.8,488.8 L2217.8,486.8 L2229.8,488.8 L2257.8,470.8 L2273.7,462.8 L2285.7,464.8 L2287.7,478.8 L2289.7,490.8 M2543.3,226.5 L2521.1,242.7 L2500.8,242.7 L2486.7,250.8 L2489.7,271.0 L2484.7,283.1 L2472.5,299.3 M2690.8,299.3 L2688.8,307.3" fill="none" stroke="#000" stroke-width="4.5" stroke-dasharray="15.4 6.7"/>
<path d="M321.8,189.0 L541.7,258.9 L657.6,288.9 M817.5,320.9 L1015.0,350.9 M1000.0,348.9 L1054.0,356.9 L1159.9,364.9 L1327.8,372.9 L1407.8,373.7 L1407.8,350.9 M1407.8,350.9 L1417.7,352.9 L1423.7,374.9 L1429.7,388.9 L1455.7,394.1 L1467.7,402.1 L1479.7,394.9 L1499.7,400.9 L1519.7,414.9 L1523.7,410.9 L1539.7,418.9 L1559.7,426.8 L1579.7,416.9 L1587.6,420.9 L1615.6,419.7 L1627.6,426.8 L1639.6,424.9 M2280.3,501.4 L2337.2,485.5 L2414.5,462.8 L2419.1,453.7 L2425.9,443.4 M2460.4,291.2 L2444.3,343.7 L2446.3,359.9 L2443.2,376.1 L2448.3,396.3 L2440.2,412.4 L2438.2,428.6 L2428.1,440.7 L2420.0,444.8 M2460.4,291.2 L2470.5,299.3 L2480.6,299.3 L2500.8,283.1 L2523.1,293.2 L2533.2,319.5 L2541.3,339.7 L2549.3,359.9 L2551.4,370.0 L2565.5,370.0 L2571.6,380.1 L2579.7,394.2 L2587.7,396.3" fill="none" stroke="#000" stroke-width="4.5" stroke-dasharray="15.4 6.7"/>
</g>
<rect x="30.5" y="178.5" width="2790" height="1763" fill="none" stroke="#000" stroke-width="3"/>
<rect x="2994.4" y="1598.5" width="73.8" height="135.1" fill="#053061"/><rect x="2994.4" y="1463.9" width="73.8" height="135.1" fill="#256baf"/><rect x="2994.4" y="1329.3" width="73.8" height="135.2" fill="#559ec9"/><rect x="2994.4" y="1194.8" width="73.8" height="135.1" fill="#a7d0e4"/><rect x="2994.4" y="1060.2" width="73.8" height="135.1" fill="#e2edf3"/><rect x="2994.4" y="925.7" width="73.8" height="135.1" fill="#fae7dc"/><rect x="2994.4" y="791.2" width="73.8" height="135.1" fill="#f7b799"/><rect x="2994.4" y="656.6" width="73.8" height="135.1" fill="#dd6f59"/><rect x="2994.4" y="522.0" width="73.8" height="135.1" fill="#b6202f"/><rect x="2994.4" y="387.5" width="73.8" height="135.1" fill="#67001f"/><path d="M2994.4,388.0 L3031.3,320 L3068.2,388.0Z" fill="#67001f"/><path d="M2994.4,1732.5 L3031.3,1799.5 L3068.2,1732.5Z" fill="#053061"/><path d="M2994.4,387.5 L3031.3,320 L3068.2,387.5 L3068.2,1733.0 L3031.3,1799.5 L2994.4,1733.0Z" fill="none" stroke="#000" stroke-width="3.2" stroke-linejoin="miter"/>
<line x1="3068.2" y1="1733.0" x2="3083.8" y2="1733.0" stroke="#000" stroke-width="3.2"/><text x="3099.5" y="1748.4" class="tk" textLength="63.5" lengthAdjust="spacingAndGlyphs">0.0</text><line x1="3068.2" y1="1598.5" x2="3083.8" y2="1598.5" stroke="#000" stroke-width="3.2"/><text x="3099.5" y="1613.9" class="tk" textLength="63.5" lengthAdjust="spacingAndGlyphs">0.1</text><line x1="3068.2" y1="1463.9" x2="3083.8" y2="1463.9" stroke="#000" stroke-width="3.2"/><text x="3099.5" y="1479.3" class="tk" textLength="63.5" lengthAdjust="spacingAndGlyphs">0.2</text><line x1="3068.2" y1="1329.3" x2="3083.8" y2="1329.3" stroke="#000" stroke-width="3.2"/><text x="3099.5" y="1344.8" class="tk" textLength="63.5" lengthAdjust="spacingAndGlyphs">0.3</text><line x1="3068.2" y1="1194.8" x2="3083.8" y2="1194.8" stroke="#000" stroke-width="3.2"/><text x="3099.5" y="1210.2" class="tk" textLength="63.5" lengthAdjust="spacingAndGlyphs">0.4</text><line x1="3068.2" y1="1060.2" x2="3083.8" y2="1060.2" stroke="#000" stroke-width="3.2"/><text x="3099.5" y="1075.7" class="tk" textLength="63.5" lengthAdjust="spacingAndGlyphs">0.5</text><line x1="3068.2" y1="925.7" x2="3083.8" y2="925.7" stroke="#000" stroke-width="3.2"/><text x="3099.5" y="941.1" class="tk" textLength="63.5" lengthAdjust="spacingAndGlyphs">0.6</text><line x1="3068.2" y1="791.2" x2="3083.8" y2="791.2" stroke="#000" stroke-width="3.2"/><text x="3099.5" y="806.6" class="tk" textLength="63.5" lengthAdjust="spacingAndGlyphs">0.7</text><line x1="3068.2" y1="656.6" x2="3083.8" y2="656.6" stroke="#000" stroke-width="3.2"/><text x="3099.5" y="672.0" class="tk" textLength="63.5" lengthAdjust="spacingAndGlyphs">0.8</text><line x1="3068.2" y1="522.0" x2="3083.8" y2="522.0" stroke="#000" stroke-width="3.2"/><text x="3099.5" y="537.4" class="tk" textLength="63.5" lengthAdjust="spacingAndGlyphs">0.9</text><line x1="3068.2" y1="387.5" x2="3083.8" y2="387.5" stroke="#000" stroke-width="3.2"/><text x="3099.5" y="402.9" class="tk" textLength="63.5" lengthAdjust="spacingAndGlyphs">1.0</text>
<text x="1425.5" y="80.8" class="tt" text-anchor="middle" textLength="1051" lengthAdjust="spacingAndGlyphs">Hit Rate (Above Normal): NOAA</text>
<text x="1425" y="154.3" class="tt" text-anchor="middle" textLength="1405" lengthAdjust="spacingAndGlyphs">Variable: T2MAX, Month: NOV, Start: 0526</text>
<text transform="translate(3213,1061.5) rotate(-90)" class="lb" text-anchor="middle" textLength="170" lengthAdjust="spacingAndGlyphs">Hit Rate</text>
</svg>
</body></html>
